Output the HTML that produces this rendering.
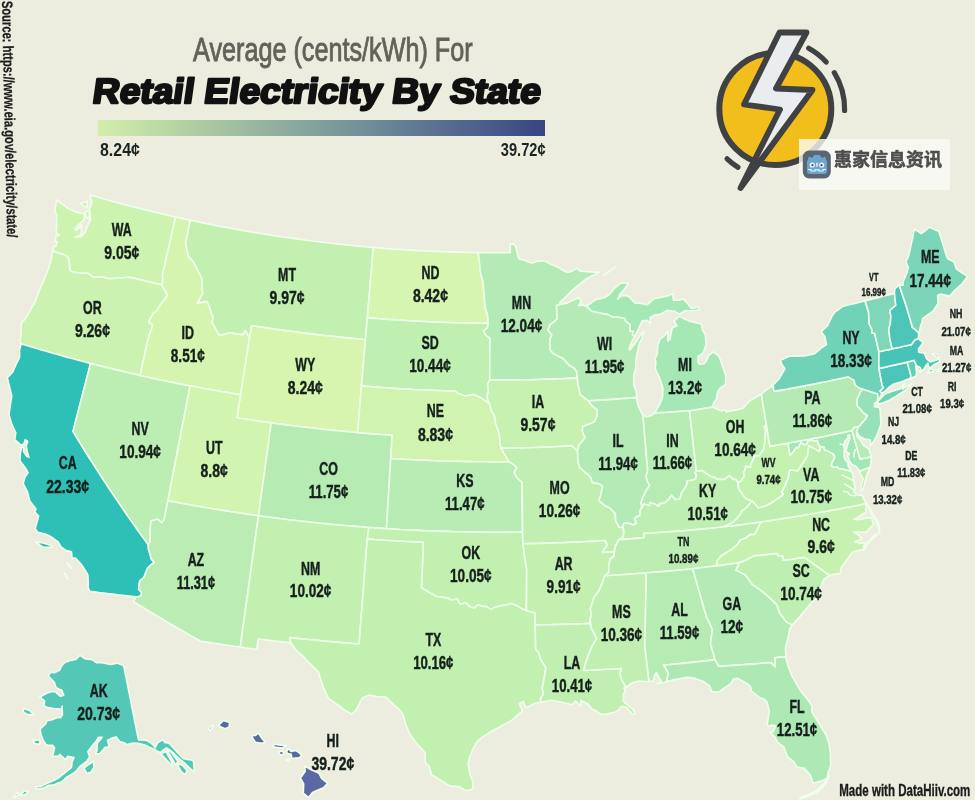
<!DOCTYPE html>
<html lang="en">
<head>
<meta charset="utf-8">
<title>Retail Electricity By State</title>
<style>
html,body{margin:0;padding:0}
html{width:975px;height:800px;overflow:hidden}
body{width:975px;height:800px;overflow:hidden;position:relative;background:#ecedde;font-family:"Liberation Sans","Noto Sans CJK SC",sans-serif}
#bg{position:absolute;left:0;top:0;width:975px;height:800px;background:#ecedde}
svg{position:absolute;left:0;top:0}
#labels,#titlesvg,#srcsvg,#sub,.lg,#src,#made,#wm{will-change:transform}
#map path{stroke:#f0ffec;stroke-width:1.6;stroke-linejoin:round}
text{font-family:"Liberation Sans",sans-serif;font-weight:bold;fill:#16201c;text-anchor:middle}
#labels text{stroke:#16201c;stroke-width:0.45px}
#sub{position:absolute;left:0;top:31.2px;width:665px;text-align:center;font-size:33.5px;color:#62625a;white-space:nowrap;-webkit-text-stroke:0.9px #62625a}
#sub span{display:inline-block;transform:scaleX(0.752);transform-origin:50% 50%}
#legend{position:absolute;left:97.5px;top:120px;width:447.5px;height:15.5px;background:linear-gradient(90deg,#d4efa9 0%,#7c9c9d 52%,#374583 100%)}
.lg{position:absolute;top:139.6px;font-size:17.5px;font-weight:bold;color:#1b2420;white-space:nowrap}
.lg span{display:inline-block;transform:scaleX(0.845);transform-origin:0 50%}
.lg.r span{transform-origin:100% 50%}
#made{position:absolute;right:4.6px;top:780.7px;font-size:17px;-webkit-text-stroke:0.35px #1b1b1b;font-weight:bold;color:#1b1b1b;white-space:nowrap}
#made span{display:inline-block;transform:scaleX(0.678);transform-origin:100% 50%}
#wm{position:absolute;left:798.6px;top:138.6px;width:151.4px;height:50.6px;background:rgba(250,250,246,0.8)}
#wm b{position:absolute;left:35px;top:6px;font-size:18px;color:#4d4d4d;-webkit-text-stroke:0.5px #4d4d4d;font-family:"Liberation Sans","Noto Sans CJK SC",sans-serif;white-space:nowrap}
</style>
</head>
<body>
<div id="bg"></div>
<svg id="map" width="975" height="800" viewBox="0 0 975 800">
<path d="M52.5,250.0L53.6,246.7L55.9,246.2L57.5,241.8L55.5,241.9L55.5,239.3L56.0,235.8L59.5,235.2L56.1,232.9L56.3,229.4L56.6,225.8L56.7,220.8L56.9,215.8L54.8,210.3L55.7,205.1L56.7,199.9L59.9,202.3L63.1,204.7L65.7,206.7L68.4,208.7L71.6,210.1L74.9,211.4L77.1,212.2L79.3,212.9L81.8,213.4L84.3,213.9L84.2,219.6L81.2,222.4L78.2,225.1L74.7,228.9L76.6,230.6L79.1,227.7L81.6,224.9L81.4,229.6L81.3,234.4L78.3,235.8L75.2,237.2L78.3,237.0L81.4,236.8L85.3,231.9L87.2,226.5L88.7,223.3L90.3,220.2L90.3,214.2L89.5,208.7L90.8,205.7L92.0,202.7L91.0,198.9L90.1,195.0L93.7,196.1L97.4,197.1L101.1,198.2L104.8,199.2L108.5,200.2L112.2,201.2L116.0,202.2L119.7,203.2L123.4,204.2L127.1,205.2L130.8,206.2L134.5,207.1L138.3,208.1L142.0,209.0L145.7,209.9L149.4,210.8L153.2,211.7L156.9,212.6L160.6,213.5L164.4,214.4L168.1,215.3L171.9,216.1L175.6,217.0L174.4,222.2L173.2,227.4L172.0,232.7L170.9,237.9L169.7,243.2L168.5,248.4L167.3,253.7L166.1,258.9L164.9,264.2L163.7,269.5L162.5,274.7L162.7,280.2L162.2,284.9L158.5,284.0L154.9,283.2L151.3,282.4L147.6,281.5L144.0,280.7L140.4,279.8L136.7,278.9L133.1,278.1L129.5,277.2L126.9,277.5L124.3,277.8L121.0,277.9L117.6,278.0L113.3,278.4L109.1,278.7L105.2,277.8L101.3,276.9L97.1,277.1L93.0,277.3L90.8,275.4L88.6,273.5L85.0,273.3L81.3,273.1L77.5,272.8L73.7,272.4L71.8,271.4L69.8,270.3L69.4,264.2L68.5,258.4L66.7,256.1L64.4,255.1L62.2,254.1L59.1,253.2L56.1,252.3L52.5,250.0ZM80.6,203.0L84.1,202.2L87.5,201.4L86.7,207.2L83.0,206.1L80.6,203.0ZM85.1,212.7L89.0,210.2L89.2,214.5L89.4,218.7L86.2,217.3L85.1,212.7Z" fill="#cdf3b0"/>
<path d="M21.1,343.9L20.3,341.2L20.7,337.0L21.1,332.9L21.2,328.1L21.2,323.4L23.4,320.9L25.6,318.4L27.4,315.3L29.3,312.2L32.2,307.0L35.1,301.8L36.2,298.5L37.4,295.2L39.4,290.5L41.3,285.9L43.3,281.4L45.2,276.9L47.1,272.0L49.0,267.1L50.2,262.6L51.4,258.1L52.0,254.1L52.5,250.0L56.1,252.3L59.1,253.2L62.2,254.1L64.4,255.1L66.7,256.1L68.5,258.4L69.4,264.2L69.8,270.3L71.8,271.4L73.7,272.4L77.5,272.8L81.3,273.1L85.0,273.3L88.6,273.5L90.8,275.4L93.0,277.3L97.1,277.1L101.3,276.9L105.2,277.8L109.1,278.7L113.3,278.4L117.6,278.0L121.0,277.9L124.3,277.8L126.9,277.5L129.5,277.2L133.1,278.1L136.7,278.9L140.4,279.8L144.0,280.7L147.6,281.5L151.3,282.4L154.9,283.2L158.5,284.0L162.2,284.9L163.5,288.5L165.5,291.7L167.4,294.8L165.3,298.6L161.8,302.9L160.0,305.7L158.2,308.5L156.6,311.2L153.7,312.7L151.8,315.9L149.8,319.0L148.7,322.3L152.5,324.4L151.9,328.3L150.1,332.7L149.4,333.7L148.2,338.9L147.0,344.1L145.9,349.3L144.7,354.5L143.5,359.7L142.3,364.9L141.2,370.2L140.0,375.4L135.9,374.4L131.7,373.5L127.6,372.5L123.5,371.6L119.3,370.6L115.2,369.6L111.1,368.6L107.0,367.6L102.9,366.6L98.8,365.5L94.6,364.5L90.5,363.4L86.4,362.4L82.3,361.3L78.2,360.2L74.1,359.1L70.0,358.0L65.9,356.9L61.9,355.8L57.8,354.6L53.7,353.5L49.6,352.3L45.5,351.1L41.5,349.9L37.4,348.8L33.3,347.6L29.3,346.3L25.2,345.1L21.1,343.9Z" fill="#cbf2b0"/>
<path d="M21.1,343.9L19.6,349.5L19.6,353.2L19.7,356.9L17.7,361.2L15.6,365.4L14.2,368.7L12.8,371.9L10.0,374.9L7.3,377.8L8.6,383.2L10.0,388.7L10.9,392.4L11.8,396.1L11.2,399.6L10.6,403.1L9.8,408.9L9.0,414.8L10.4,419.5L11.8,424.2L13.8,428.5L15.8,432.7L15.3,436.2L14.7,439.7L18.2,442.6L21.6,445.4L24.0,443.6L25.1,439.8L27.8,441.5L26.3,445.5L27.3,451.9L29.0,457.2L26.9,456.6L23.6,451.6L23.5,447.2L21.7,447.1L20.9,450.3L20.2,453.5L20.1,457.2L20.0,460.8L22.8,464.5L25.6,468.2L28.1,472.8L25.1,476.8L24.1,480.2L23.2,483.6L25.4,487.8L27.6,492.1L28.7,496.7L29.9,501.2L32.9,505.1L36.0,508.9L34.7,512.2L36.7,514.1L38.7,516.0L37.1,521.4L36.2,525.0L35.2,528.6L37.7,532.4L42.1,533.4L46.4,534.4L49.0,535.8L51.6,537.2L54.9,539.6L58.2,542.0L61.0,546.8L63.5,548.6L66.0,550.5L68.7,551.1L71.5,551.8L72.0,557.9L75.8,558.4L78.2,561.0L80.5,563.6L83.5,567.6L85.7,571.2L87.8,574.8L88.1,579.1L88.4,583.4L88.1,587.6L89.6,591.3L94.3,591.9L98.9,592.5L103.6,593.0L108.2,593.6L112.9,594.1L117.5,594.7L122.2,595.2L126.9,595.7L131.5,596.2L136.2,596.7L138.1,596.8L141.3,595.8L141.4,592.2L138.6,589.3L139.1,585.2L139.7,581.2L144.0,577.3L145.7,572.8L147.5,568.4L150.8,565.0L154.2,562.6L151.0,558.4L150.2,554.6L148.5,549.5L148.3,544.7L144.6,539.6L140.9,534.6L137.3,529.5L133.7,524.4L130.1,519.3L126.6,514.2L123.1,509.0L119.6,503.9L116.1,498.8L112.6,493.6L109.2,488.5L105.8,483.3L102.4,478.2L99.0,473.0L95.7,467.8L92.4,462.6L89.1,457.5L85.8,452.3L82.6,447.1L79.4,441.9L76.2,436.7L73.0,431.4L74.5,425.8L75.9,420.1L77.4,414.4L78.8,408.8L80.3,403.1L81.8,397.4L83.2,391.8L84.7,386.1L86.2,380.4L87.6,374.8L89.1,369.1L90.5,363.4L86.4,362.4L82.3,361.3L78.2,360.2L74.1,359.1L70.0,358.0L65.9,356.9L61.9,355.8L57.8,354.6L53.7,353.5L49.6,352.3L45.5,351.1L41.5,349.9L37.4,348.8L33.3,347.6L29.3,346.3L25.2,345.1L21.1,343.9ZM35.6,542.0L39.4,542.5L43.2,543.0L47.8,544.5L52.3,545.9L51.9,547.4L47.5,547.3L43.1,547.1L39.4,544.6L35.6,542.0ZM66.8,563.2L69.1,565.9L71.4,568.6L70.2,565.4L66.8,563.2ZM64.3,573.4L67.9,579.3L66.0,574.5L64.3,573.4Z" fill="#2ec0b6"/>
<path d="M90.5,363.4L94.6,364.5L98.8,365.5L102.9,366.6L107.0,367.6L111.1,368.6L115.2,369.6L119.3,370.6L123.5,371.6L127.6,372.5L131.7,373.5L135.9,374.4L140.0,375.4L144.2,376.3L148.3,377.2L152.5,378.1L156.7,379.0L160.8,379.9L165.0,380.8L169.2,381.7L173.4,382.5L177.6,383.4L181.7,384.2L185.9,385.0L190.1,385.8L189.0,391.6L187.9,397.3L186.8,403.0L185.7,408.8L184.6,414.5L183.4,420.3L182.3,426.0L181.2,431.8L180.1,437.5L179.0,443.3L177.9,449.0L176.8,454.8L175.6,460.5L174.5,466.3L173.4,472.0L172.3,477.8L171.2,483.5L170.1,489.3L169.0,495.1L167.8,500.8L166.9,505.5L166.1,510.1L165.2,514.8L164.3,519.4L161.7,522.8L157.7,519.1L154.3,520.0L150.9,520.9L150.5,525.8L150.1,530.8L150.1,536.1L150.1,541.5L148.3,544.7L144.6,539.6L140.9,534.6L137.3,529.5L133.7,524.4L130.1,519.3L126.6,514.2L123.1,509.0L119.6,503.9L116.1,498.8L112.6,493.6L109.2,488.5L105.8,483.3L102.4,478.2L99.0,473.0L95.7,467.8L92.4,462.6L89.1,457.5L85.8,452.3L82.6,447.1L79.4,441.9L76.2,436.7L73.0,431.4L74.5,425.8L75.9,420.1L77.4,414.4L78.8,408.8L80.3,403.1L81.8,397.4L83.2,391.8L84.7,386.1L86.2,380.4L87.6,374.8L89.1,369.1L90.5,363.4Z" fill="#bcedb3"/>
<path d="M175.6,217.0L179.3,217.8L183.0,218.6L186.7,219.4L190.4,220.2L189.2,225.8L188.0,231.4L186.8,237.1L185.6,242.7L186.5,247.2L187.4,251.7L188.3,256.2L190.9,259.1L193.6,262.0L196.3,267.3L199.0,272.6L201.8,277.8L201.9,283.2L202.1,288.5L202.8,293.4L200.2,298.2L197.6,303.0L200.7,302.4L203.9,301.9L207.0,301.3L209.3,306.5L211.2,312.1L213.0,317.8L212.2,322.4L215.0,327.6L217.8,332.8L219.9,335.3L223.1,334.4L226.4,333.5L229.6,332.6L232.8,333.1L236.1,333.7L239.4,334.2L242.6,334.8L245.3,330.5L247.5,334.1L249.6,337.8L248.7,343.5L247.8,349.1L246.9,354.8L246.0,360.5L245.1,366.2L244.2,371.9L243.3,377.6L242.4,383.3L241.5,389.0L240.6,394.7L236.3,394.0L232.1,393.3L227.9,392.6L223.7,391.9L219.5,391.2L215.3,390.5L211.1,389.7L206.9,389.0L202.7,388.2L198.5,387.4L194.3,386.6L190.1,385.8L185.9,385.0L181.7,384.2L177.6,383.4L173.4,382.5L169.2,381.7L165.0,380.8L160.8,379.9L156.7,379.0L152.5,378.1L148.3,377.2L144.2,376.3L140.0,375.4L141.2,370.2L142.3,364.9L143.5,359.7L144.7,354.5L145.9,349.3L147.0,344.1L148.2,338.9L149.4,333.7L150.1,332.7L151.9,328.3L152.5,324.4L148.7,322.3L149.8,319.0L151.8,315.9L153.7,312.7L156.6,311.2L158.2,308.5L160.0,305.7L161.8,302.9L165.3,298.6L167.4,294.8L165.5,291.7L163.5,288.5L162.2,284.9L162.7,280.2L162.5,274.7L163.7,269.5L164.9,264.2L166.1,258.9L167.3,253.7L168.5,248.4L169.7,243.2L170.9,237.9L172.0,232.7L173.2,227.4L174.4,222.2L175.6,217.0Z" fill="#d4f4b0"/>
<path d="M190.4,220.2L194.1,221.0L197.9,221.8L201.7,222.6L205.5,223.4L209.3,224.1L213.0,224.9L216.8,225.6L220.6,226.4L224.4,227.1L228.2,227.8L232.0,228.5L235.8,229.2L239.6,229.9L243.3,230.6L247.1,231.2L250.9,231.9L254.7,232.5L258.5,233.1L262.4,233.8L266.2,234.4L270.0,235.0L273.8,235.6L277.6,236.2L281.4,236.7L285.2,237.3L289.0,237.8L292.8,238.4L296.7,238.9L300.5,239.4L304.3,240.0L308.1,240.5L311.9,241.0L315.8,241.4L319.6,241.9L323.4,242.4L327.3,242.8L331.1,243.3L334.9,243.7L338.7,244.1L342.6,244.5L346.4,244.9L350.2,245.3L354.1,245.7L357.9,246.1L361.8,246.4L365.6,246.8L369.4,247.1L373.3,247.5L372.8,252.8L372.4,258.2L371.9,263.6L371.5,269.0L371.0,274.4L370.5,279.8L370.1,285.2L369.6,290.6L369.2,296.1L368.7,301.5L368.2,306.9L367.8,312.3L367.3,317.8L366.8,323.2L366.4,328.6L365.9,334.1L365.5,339.5L361.4,339.2L357.3,338.8L353.2,338.4L349.1,338.1L345.1,337.7L341.0,337.2L336.9,336.8L332.8,336.4L328.8,336.0L324.7,335.5L320.6,335.1L316.5,334.6L312.5,334.1L308.4,333.6L304.3,333.1L300.3,332.6L296.2,332.1L292.1,331.5L288.1,331.0L284.0,330.4L280.0,329.9L275.9,329.3L271.8,328.7L267.8,328.1L263.7,327.5L259.7,326.9L255.6,326.3L251.6,325.6L250.9,329.7L250.3,333.7L249.6,337.8L247.5,334.1L245.3,330.5L242.6,334.8L239.4,334.2L236.1,333.7L232.8,333.1L229.6,332.6L226.4,333.5L223.1,334.4L219.9,335.3L217.8,332.8L215.0,327.6L212.2,322.4L213.0,317.8L211.2,312.1L209.3,306.5L207.0,301.3L203.9,301.9L200.7,302.4L197.6,303.0L200.2,298.2L202.8,293.4L202.1,288.5L201.9,283.2L201.8,277.8L199.0,272.6L196.3,267.3L193.6,262.0L190.9,259.1L188.3,256.2L187.4,251.7L186.5,247.2L185.6,242.7L186.8,237.1L188.0,231.4L189.2,225.8L190.4,220.2Z" fill="#c2f0b0"/>
<path d="M249.6,337.8L250.3,333.7L250.9,329.7L251.6,325.6L255.6,326.3L259.7,326.9L263.7,327.5L267.8,328.1L271.8,328.7L275.9,329.3L280.0,329.9L284.0,330.4L288.1,331.0L292.1,331.5L296.2,332.1L300.3,332.6L304.3,333.1L308.4,333.6L312.5,334.1L316.5,334.6L320.6,335.1L324.7,335.5L328.8,336.0L332.8,336.4L336.9,336.8L341.0,337.2L345.1,337.7L349.1,338.1L353.2,338.4L357.3,338.8L361.4,339.2L365.5,339.5L365.0,345.3L364.5,351.1L364.0,356.9L363.5,362.7L363.0,368.5L362.5,374.3L362.0,380.1L361.5,385.9L361.0,391.8L360.5,397.6L360.0,403.4L359.5,409.2L359.1,415.1L358.6,420.9L358.1,426.7L357.6,432.5L353.2,432.2L348.9,431.8L344.6,431.4L340.3,431.0L335.9,430.6L331.6,430.1L327.3,429.7L323.0,429.2L318.7,428.8L314.3,428.3L310.0,427.8L305.7,427.3L301.4,426.8L297.1,426.3L292.8,425.7L288.5,425.2L284.2,424.6L279.8,424.1L275.5,423.5L271.2,422.9L266.9,422.3L262.6,421.7L258.3,421.1L254.0,420.4L249.7,419.8L245.5,419.1L241.2,418.5L236.9,417.8L237.8,412.0L238.7,406.2L239.6,400.5L240.6,394.7L241.5,389.0L242.4,383.3L243.3,377.6L244.2,371.9L245.1,366.2L246.0,360.5L246.9,354.8L247.8,349.1L248.7,343.5L249.6,337.8Z" fill="#d8f5b0"/>
<path d="M190.1,385.8L194.3,386.6L198.5,387.4L202.7,388.2L206.9,389.0L211.1,389.7L215.3,390.5L219.5,391.2L223.7,391.9L227.9,392.6L232.1,393.3L236.3,394.0L240.6,394.7L239.6,400.5L238.7,406.2L237.8,412.0L236.9,417.8L241.2,418.5L245.5,419.1L249.7,419.8L254.0,420.4L258.3,421.1L262.6,421.7L266.9,422.3L271.2,422.9L270.4,428.7L269.6,434.5L268.9,440.3L268.1,446.1L267.3,451.9L266.5,457.7L265.7,463.5L264.9,469.3L264.1,475.1L263.3,480.9L262.5,486.7L261.7,492.5L260.9,498.4L260.1,504.2L259.3,510.0L258.5,515.8L254.2,515.2L249.8,514.6L245.5,513.9L241.2,513.3L236.8,512.6L232.5,512.0L228.2,511.3L223.9,510.6L219.6,509.9L215.2,509.2L210.9,508.5L206.6,507.8L202.3,507.1L198.0,506.3L193.7,505.6L189.4,504.8L185.0,504.0L180.7,503.2L176.4,502.4L172.1,501.6L167.8,500.8L169.0,495.1L170.1,489.3L171.2,483.5L172.3,477.8L173.4,472.0L174.5,466.3L175.6,460.5L176.8,454.8L177.9,449.0L179.0,443.3L180.1,437.5L181.2,431.8L182.3,426.0L183.4,420.3L184.6,414.5L185.7,408.8L186.8,403.0L187.9,397.3L189.0,391.6L190.1,385.8Z" fill="#d1f4b0"/>
<path d="M167.8,500.8L172.1,501.6L176.4,502.4L180.7,503.2L185.0,504.0L189.4,504.8L193.7,505.6L198.0,506.3L202.3,507.1L206.6,507.8L210.9,508.5L215.2,509.2L219.6,509.9L223.9,510.6L228.2,511.3L232.5,512.0L236.8,512.6L241.2,513.3L245.5,513.9L249.8,514.6L254.2,515.2L258.5,515.8L257.7,521.5L256.9,527.2L256.1,532.9L255.3,538.7L254.5,544.4L253.7,550.1L252.9,555.8L252.1,561.5L251.4,567.3L250.6,573.0L249.8,578.7L249.0,584.4L248.2,590.1L247.4,595.8L246.6,601.5L245.8,607.2L245.0,612.9L244.2,618.6L243.4,624.3L242.6,630.0L241.8,635.7L241.1,641.4L240.3,647.1L235.9,646.5L231.5,645.9L227.1,645.2L222.7,644.6L218.3,643.9L213.9,643.3L209.6,642.6L205.2,641.9L200.8,641.2L196.2,638.7L191.7,636.1L187.1,633.5L182.6,630.9L178.0,628.3L173.5,625.7L169.0,623.0L164.5,620.4L160.0,617.7L155.6,615.1L151.1,612.4L146.7,609.7L142.2,607.0L137.8,604.3L133.4,601.6L136.2,596.7L138.1,596.8L141.3,595.8L141.4,592.2L138.6,589.3L139.1,585.2L139.7,581.2L144.0,577.3L145.7,572.8L147.5,568.4L150.8,565.0L154.2,562.6L151.0,558.4L150.2,554.6L148.5,549.5L148.3,544.7L150.1,541.5L150.1,536.1L150.1,530.8L150.5,525.8L150.9,520.9L154.3,520.0L157.7,519.1L161.7,522.8L164.3,519.4L165.2,514.8L166.1,510.1L166.9,505.5L167.8,500.8Z" fill="#baecb4"/>
<path d="M271.2,422.9L275.5,423.5L279.8,424.1L284.2,424.6L288.5,425.2L292.8,425.7L297.1,426.3L301.4,426.8L305.7,427.3L310.0,427.8L314.3,428.3L318.7,428.8L323.0,429.2L327.3,429.7L331.6,430.1L335.9,430.6L340.3,431.0L344.6,431.4L348.9,431.8L353.2,432.2L357.6,432.5L361.9,432.9L366.2,433.2L370.6,433.6L374.9,433.9L379.2,434.2L383.6,434.5L387.9,434.8L392.2,435.1L391.8,441.0L391.5,446.8L391.1,452.6L390.7,458.5L390.4,464.3L390.0,470.2L389.7,476.0L389.3,481.9L388.9,487.7L388.6,493.6L388.2,499.4L387.9,505.3L387.5,511.1L387.2,517.0L386.8,522.8L386.4,528.7L382.0,528.4L377.6,528.1L373.3,527.8L368.9,527.5L364.4,527.1L360.0,526.8L355.6,526.4L351.2,526.1L346.7,525.7L342.3,525.3L337.9,524.9L333.5,524.5L329.0,524.1L324.6,523.6L320.2,523.2L315.8,522.7L311.4,522.3L307.0,521.8L302.6,521.3L298.1,520.8L293.7,520.3L289.3,519.7L284.9,519.2L280.5,518.7L276.1,518.1L271.7,517.5L267.3,517.0L262.9,516.4L258.5,515.8L259.3,510.0L260.1,504.2L260.9,498.4L261.7,492.5L262.5,486.7L263.3,480.9L264.1,475.1L264.9,469.3L265.7,463.5L266.5,457.7L267.3,451.9L268.1,446.1L268.9,440.3L269.6,434.5L270.4,428.7L271.2,422.9Z" fill="#b6ebb4"/>
<path d="M258.5,515.8L262.9,516.4L267.3,517.0L271.7,517.5L276.1,518.1L280.5,518.7L284.9,519.2L289.3,519.7L293.7,520.3L298.1,520.8L302.6,521.3L307.0,521.8L311.4,522.3L315.8,522.7L320.2,523.2L324.6,523.6L329.0,524.1L333.5,524.5L337.9,524.9L342.3,525.3L346.7,525.7L351.2,526.1L355.6,526.4L360.0,526.8L364.4,527.1L368.9,527.5L368.1,533.3L367.3,539.1L366.8,544.9L366.3,550.8L365.9,556.6L365.4,562.4L365.0,568.3L364.5,574.1L364.1,579.9L363.6,585.8L363.2,591.6L362.7,597.4L362.3,603.3L361.8,609.1L361.3,614.9L360.9,620.7L360.4,626.6L360.0,632.4L359.5,638.2L359.1,644.0L354.4,643.7L349.8,643.3L345.2,642.9L340.5,642.5L335.9,642.1L331.3,641.7L326.6,641.3L322.0,640.9L317.4,640.4L312.8,640.0L308.1,639.5L303.5,639.0L298.9,638.6L294.3,638.1L289.6,637.5L290.8,642.8L286.1,642.3L281.5,641.8L276.8,641.2L272.1,640.7L267.4,640.1L262.7,639.5L258.1,638.9L257.4,644.1L256.7,649.3L252.6,648.8L248.5,648.2L244.4,647.7L240.3,647.1L241.1,641.4L241.8,635.7L242.6,630.0L243.4,624.3L244.2,618.6L245.0,612.9L245.8,607.2L246.6,601.5L247.4,595.8L248.2,590.1L249.0,584.4L249.8,578.7L250.6,573.0L251.4,567.3L252.1,561.5L252.9,555.8L253.7,550.1L254.5,544.4L255.3,538.7L256.1,532.9L256.9,527.2L257.7,521.5L258.5,515.8Z" fill="#c2f0b0"/>
<path d="M373.3,247.5L377.0,247.8L380.8,248.1L384.5,248.4L388.3,248.7L392.0,248.9L395.7,249.2L399.5,249.4L403.2,249.7L407.0,249.9L410.7,250.2L414.5,250.4L418.2,250.6L422.0,250.8L425.7,251.0L429.5,251.1L433.2,251.3L437.0,251.5L440.8,251.6L444.5,251.8L448.3,251.9L452.0,252.0L455.8,252.1L459.5,252.2L463.3,252.3L467.0,252.4L470.8,252.5L474.5,252.5L478.3,252.6L478.9,257.2L479.4,261.8L479.8,266.4L480.1,271.0L481.6,276.8L483.1,282.5L483.5,287.1L483.8,291.8L484.2,296.4L484.5,301.0L484.9,304.5L485.3,308.0L486.4,311.4L487.6,314.9L487.9,319.1L488.2,323.3L484.2,323.2L480.1,323.2L476.1,323.1L472.1,323.1L468.0,323.0L464.0,322.9L460.0,322.8L455.9,322.7L451.9,322.6L447.9,322.5L443.8,322.4L439.8,322.2L435.8,322.1L431.7,321.9L427.7,321.7L423.7,321.5L419.6,321.3L415.6,321.1L411.6,320.9L407.6,320.7L403.5,320.4L399.5,320.2L395.5,319.9L391.5,319.6L387.4,319.4L383.4,319.1L379.4,318.8L375.4,318.4L371.3,318.1L367.3,317.8L367.8,312.3L368.2,306.9L368.7,301.5L369.2,296.1L369.6,290.6L370.1,285.2L370.5,279.8L371.0,274.4L371.5,269.0L371.9,263.6L372.4,258.2L372.8,252.8L373.3,247.5Z" fill="#d6f5b0"/>
<path d="M367.3,317.8L371.3,318.1L375.4,318.4L379.4,318.8L383.4,319.1L387.4,319.4L391.5,319.6L395.5,319.9L399.5,320.2L403.5,320.4L407.6,320.7L411.6,320.9L415.6,321.1L419.6,321.3L423.7,321.5L427.7,321.7L431.7,321.9L435.8,322.1L439.8,322.2L443.8,322.4L447.9,322.5L451.9,322.6L455.9,322.7L460.0,322.8L464.0,322.9L468.0,323.0L472.1,323.1L476.1,323.1L480.1,323.2L484.2,323.2L488.2,323.3L487.5,327.7L483.5,331.1L485.9,335.3L489.9,338.1L489.9,343.3L489.9,348.6L489.8,353.8L489.8,359.0L489.8,364.3L489.8,369.5L489.7,374.8L489.7,380.0L487.5,384.7L488.5,390.5L487.6,394.0L486.8,397.5L488.2,400.5L489.6,403.6L485.4,401.0L482.8,399.2L480.3,397.4L477.0,396.0L473.6,394.6L469.3,395.3L465.1,396.0L461.7,394.8L458.4,393.6L455.1,391.1L451.0,391.0L446.9,390.9L442.8,390.8L438.8,390.6L434.7,390.5L430.6,390.3L426.6,390.1L422.5,390.0L418.4,389.8L414.4,389.6L410.3,389.3L406.2,389.1L402.2,388.9L398.1,388.6L394.0,388.4L390.0,388.1L385.9,387.8L381.8,387.5L377.8,387.2L373.7,386.9L369.6,386.6L365.6,386.3L361.5,385.9L362.0,380.1L362.5,374.3L363.0,368.5L363.5,362.7L364.0,356.9L364.5,351.1L365.0,345.3L365.5,339.5L365.9,334.1L366.4,328.6L366.8,323.2L367.3,317.8Z" fill="#bfefb1"/>
<path d="M361.5,385.9L365.6,386.3L369.6,386.6L373.7,386.9L377.8,387.2L381.8,387.5L385.9,387.8L390.0,388.1L394.0,388.4L398.1,388.6L402.2,388.9L406.2,389.1L410.3,389.3L414.4,389.6L418.4,389.8L422.5,390.0L426.6,390.1L430.6,390.3L434.7,390.5L438.8,390.6L442.8,390.8L446.9,390.9L451.0,391.0L455.1,391.1L458.4,393.6L461.7,394.8L465.1,396.0L469.3,395.3L473.6,394.6L477.0,396.0L480.3,397.4L482.8,399.2L485.4,401.0L489.6,403.6L490.4,407.0L491.3,410.4L493.2,413.9L495.0,417.4L495.5,423.2L497.0,427.3L498.5,431.4L499.2,434.9L499.9,438.5L499.9,443.6L501.3,448.3L503.2,451.8L505.2,455.3L507.3,458.6L509.4,461.8L505.0,461.9L500.6,461.9L496.2,461.9L491.8,461.9L487.4,461.8L483.0,461.8L478.6,461.8L474.2,461.7L469.8,461.6L465.4,461.6L461.0,461.5L456.6,461.4L452.2,461.3L447.8,461.1L443.5,461.0L439.1,460.9L434.7,460.7L430.3,460.5L425.9,460.3L421.5,460.2L417.1,460.0L412.7,459.7L408.3,459.5L403.9,459.3L399.5,459.0L395.1,458.8L390.7,458.5L391.1,452.6L391.5,446.8L391.8,441.0L392.2,435.1L387.9,434.8L383.6,434.5L379.2,434.2L374.9,433.9L370.6,433.6L366.2,433.2L361.9,432.9L357.6,432.5L358.1,426.7L358.6,420.9L359.1,415.1L359.5,409.2L360.0,403.4L360.5,397.6L361.0,391.8L361.5,385.9Z" fill="#d0f3b0"/>
<path d="M390.7,458.5L395.1,458.8L399.5,459.0L403.9,459.3L408.3,459.5L412.7,459.7L417.1,460.0L421.5,460.2L425.9,460.3L430.3,460.5L434.7,460.7L439.1,460.9L443.5,461.0L447.8,461.1L452.2,461.3L456.6,461.4L461.0,461.5L465.4,461.6L469.8,461.6L474.2,461.7L478.6,461.8L483.0,461.8L487.4,461.8L491.8,461.9L496.2,461.9L500.6,461.9L505.0,461.9L509.4,461.8L511.7,463.3L514.0,464.8L516.7,467.6L514.1,472.3L516.8,477.5L519.4,479.9L522.1,482.3L522.1,487.8L522.2,493.4L522.2,498.9L522.3,504.4L522.4,509.9L522.4,515.4L522.5,521.0L522.5,526.5L522.6,532.0L518.1,532.1L513.5,532.1L509.0,532.1L504.4,532.2L499.9,532.2L495.4,532.2L490.8,532.2L486.3,532.1L481.7,532.1L477.2,532.1L472.7,532.0L468.1,531.9L463.6,531.9L459.0,531.8L454.5,531.7L449.9,531.5L445.4,531.4L440.9,531.3L436.3,531.1L431.8,531.0L427.3,530.8L422.7,530.6L418.2,530.4L413.6,530.2L409.1,530.0L404.6,529.7L400.0,529.5L395.5,529.2L391.0,528.9L386.4,528.7L386.8,522.8L387.2,517.0L387.5,511.1L387.9,505.3L388.2,499.4L388.6,493.6L388.9,487.7L389.3,481.9L389.7,476.0L390.0,470.2L390.4,464.3L390.7,458.5Z" fill="#b8ecb4"/>
<path d="M368.9,527.5L373.3,527.8L377.6,528.1L382.0,528.4L386.4,528.7L391.0,528.9L395.5,529.2L400.0,529.5L404.6,529.7L409.1,530.0L413.6,530.2L418.2,530.4L422.7,530.6L427.3,530.8L431.8,531.0L436.3,531.1L440.9,531.3L445.4,531.4L449.9,531.5L454.5,531.7L459.0,531.8L463.6,531.9L468.1,531.9L472.7,532.0L477.2,532.1L481.7,532.1L486.3,532.1L490.8,532.2L495.4,532.2L499.9,532.2L504.4,532.2L509.0,532.1L513.5,532.1L518.1,532.1L522.6,532.0L522.7,537.9L522.8,543.7L523.6,548.9L524.3,554.1L525.1,559.3L525.9,564.5L526.7,569.7L526.7,575.5L526.6,581.4L526.6,587.2L526.6,593.1L526.5,598.9L526.5,604.8L526.4,610.6L523.8,609.6L521.2,608.6L516.4,605.4L511.6,603.5L508.7,604.2L505.9,604.8L503.0,605.4L500.1,605.9L497.3,606.8L494.4,607.6L490.6,609.4L486.4,606.6L482.9,606.4L478.1,604.7L474.3,608.1L469.5,606.4L465.7,602.6L462.9,603.5L460.0,604.4L457.2,599.0L454.4,599.5L451.5,600.0L447.7,598.3L444.4,597.6L441.1,596.9L436.3,596.5L432.6,594.4L428.9,592.3L425.1,590.0L421.4,587.7L421.7,582.1L421.9,576.4L422.2,570.7L422.4,565.0L422.6,559.4L422.9,553.7L423.1,548.0L423.4,542.3L419.0,542.2L414.7,542.0L410.4,541.8L406.1,541.5L401.8,541.3L397.4,541.1L393.1,540.8L388.8,540.5L384.5,540.3L380.2,540.0L375.9,539.7L371.6,539.4L367.3,539.1L368.1,533.3L368.9,527.5Z" fill="#c2f0b0"/>
<path d="M367.3,539.1L371.6,539.4L375.9,539.7L380.2,540.0L384.5,540.3L388.8,540.5L393.1,540.8L397.4,541.1L401.8,541.3L406.1,541.5L410.4,541.8L414.7,542.0L419.0,542.2L423.4,542.3L423.1,548.0L422.9,553.7L422.6,559.4L422.4,565.0L422.2,570.7L421.9,576.4L421.7,582.1L421.4,587.7L425.1,590.0L428.9,592.3L432.6,594.4L436.3,596.5L441.1,596.9L444.4,597.6L447.7,598.3L451.5,600.0L454.4,599.5L457.2,599.0L460.0,604.4L462.9,603.5L465.7,602.6L469.5,606.4L474.3,608.1L478.1,604.7L482.9,606.4L486.4,606.6L490.6,609.4L494.4,607.6L497.3,606.8L500.1,605.9L503.0,605.4L505.9,604.8L508.7,604.2L511.6,603.5L516.4,605.4L521.2,608.6L523.8,609.6L526.4,610.6L530.9,611.9L534.9,612.6L535.0,616.7L535.1,620.8L535.2,625.0L535.3,629.8L535.4,634.6L535.5,639.4L535.6,644.2L535.7,649.0L538.5,652.2L539.5,655.7L540.6,659.1L543.2,663.4L545.8,667.6L545.3,670.9L544.9,674.2L544.0,678.9L543.2,683.5L542.3,688.2L543.4,694.0L540.5,698.7L540.8,702.4L538.2,702.7L535.6,703.0L532.6,704.5L529.6,705.9L525.6,707.8L524.5,704.6L523.4,701.3L519.4,703.7L521.0,707.4L522.6,711.1L518.6,714.2L515.0,717.3L511.5,720.5L507.1,722.9L502.7,725.3L498.3,727.7L493.7,730.3L489.1,732.8L485.5,735.1L481.9,737.4L476.7,742.0L474.6,746.0L472.5,750.0L470.9,754.0L469.3,758.1L468.7,761.5L468.1,765.0L469.1,769.6L470.1,774.2L471.4,777.7L472.7,781.2L472.9,785.1L473.0,789.0L469.3,789.9L465.6,790.7L462.5,788.7L459.4,786.7L454.7,786.4L449.9,786.1L446.0,783.7L442.1,781.2L438.2,778.8L434.8,776.7L431.4,774.5L430.3,770.4L429.1,766.3L425.5,762.7L425.2,757.5L424.9,752.3L421.4,748.7L417.9,745.1L413.5,739.1L409.2,733.2L407.3,728.4L405.5,723.7L404.2,719.0L402.9,714.3L398.1,708.3L395.2,705.8L390.4,701.5L385.6,697.1L381.1,696.8L376.6,696.6L373.1,695.8L369.6,694.9L366.0,696.4L362.3,697.9L360.4,701.8L358.4,705.7L356.4,709.6L352.0,714.2L347.6,711.7L343.2,709.3L339.8,706.2L336.0,703.7L332.3,701.1L328.5,698.5L325.7,692.5L322.9,686.6L321.4,681.6L319.8,676.6L318.3,671.7L314.6,668.1L311.0,664.6L307.3,661.0L302.9,656.1L299.7,653.4L296.5,650.7L293.7,646.8L290.8,642.8L289.6,637.5L294.3,638.1L298.9,638.6L303.5,639.0L308.1,639.5L312.8,640.0L317.4,640.4L322.0,640.9L326.6,641.3L331.3,641.7L335.9,642.1L340.5,642.5L345.2,642.9L349.8,643.3L354.4,643.7L359.1,644.0L359.5,638.2L360.0,632.4L360.4,626.6L360.9,620.7L361.3,614.9L361.8,609.1L362.3,603.3L362.7,597.4L363.2,591.6L363.6,585.8L364.1,579.9L364.5,574.1L365.0,568.3L365.4,562.4L365.9,556.6L366.3,550.8L366.8,544.9L367.3,539.1Z" fill="#c1f0b0"/>
<path d="M478.3,252.6L481.9,252.6L485.4,252.7L489.0,252.7L492.5,252.7L496.1,252.7L499.6,252.7L503.2,252.7L506.8,252.7L510.3,252.7L510.3,248.3L510.2,244.0L513.4,244.1L515.4,245.7L516.5,250.3L517.7,254.9L518.9,259.0L521.7,259.6L524.4,260.3L527.9,261.7L531.4,263.1L534.5,262.2L537.6,261.3L541.1,261.0L544.6,260.7L548.1,262.7L551.7,264.8L554.1,265.6L556.4,266.5L559.9,268.5L563.4,270.5L566.9,272.4L569.2,272.3L571.9,271.0L574.5,269.6L577.1,268.2L580.1,271.1L583.8,271.4L587.5,271.7L591.1,272.0L593.8,272.1L596.5,272.1L599.1,272.2L596.0,273.9L592.8,275.5L589.6,277.1L586.4,278.8L583.0,281.5L579.6,284.3L576.2,287.0L574.2,288.6L572.1,290.2L569.1,293.5L566.1,296.7L562.8,299.6L559.5,302.6L560.8,304.4L558.7,304.9L556.6,305.5L556.7,309.9L556.9,314.4L557.1,318.9L554.6,321.3L552.2,323.1L549.9,324.9L547.9,330.3L551.8,334.6L550.3,338.4L549.7,343.1L550.3,346.5L549.9,350.0L552.2,352.1L554.5,354.1L556.9,355.4L559.2,356.7L562.9,358.2L566.3,361.9L569.7,365.6L573.8,367.7L576.5,371.1L576.9,374.5L577.3,378.0L573.2,378.2L569.0,378.4L564.8,378.6L560.7,378.8L556.5,378.9L552.3,379.1L548.1,379.2L544.0,379.3L539.8,379.5L535.6,379.6L531.5,379.7L527.3,379.8L523.1,379.8L518.9,379.9L514.8,379.9L510.6,380.0L506.4,380.0L502.2,380.0L498.1,380.0L493.9,380.0L489.7,380.0L489.7,374.8L489.8,369.5L489.8,364.3L489.8,359.0L489.8,353.8L489.9,348.6L489.9,343.3L489.9,338.1L485.9,335.3L483.5,331.1L487.5,327.7L488.2,323.3L487.9,319.1L487.6,314.9L486.4,311.4L485.3,308.0L484.9,304.5L484.5,301.0L484.2,296.4L483.8,291.8L483.5,287.1L483.1,282.5L481.6,276.8L480.1,271.0L479.8,266.4L479.4,261.8L478.9,257.2L478.3,252.6Z" fill="#b4eab5"/>
<path d="M489.7,380.0L493.9,380.0L498.1,380.0L502.2,380.0L506.4,380.0L510.6,380.0L514.8,379.9L518.9,379.9L523.1,379.8L527.3,379.8L531.5,379.7L535.6,379.6L539.8,379.5L544.0,379.3L548.1,379.2L552.3,379.1L556.5,378.9L560.7,378.8L564.8,378.6L569.0,378.4L573.2,378.2L577.3,378.0L578.0,383.8L579.1,388.4L579.6,391.6L580.2,394.7L582.2,396.2L585.3,398.5L588.4,400.8L592.4,406.2L594.8,407.9L597.3,409.6L597.1,415.5L594.7,421.5L590.7,423.6L586.7,425.0L582.7,426.4L582.5,431.6L583.8,434.5L585.0,437.5L582.6,440.9L579.0,445.1L577.5,451.0L574.7,448.5L571.8,445.9L567.7,446.1L563.5,446.3L559.4,446.5L555.3,446.7L551.1,446.9L547.0,447.1L542.8,447.2L538.7,447.4L534.5,447.5L530.4,447.7L526.2,447.8L522.0,447.9L517.9,448.0L513.7,448.1L509.6,448.2L505.4,448.2L501.3,448.3L499.9,443.6L499.9,438.5L499.2,434.9L498.5,431.4L497.0,427.3L495.5,423.2L495.0,417.4L493.2,413.9L491.3,410.4L490.4,407.0L489.6,403.6L488.2,400.5L486.8,397.5L487.6,394.0L488.5,390.5L487.5,384.7L489.7,380.0Z" fill="#c7f1b0"/>
<path d="M501.3,448.3L505.4,448.2L509.6,448.2L513.7,448.1L517.9,448.0L522.0,447.9L526.2,447.8L530.4,447.7L534.5,447.5L538.7,447.4L542.8,447.2L547.0,447.1L551.1,446.9L555.3,446.7L559.4,446.5L563.5,446.3L567.7,446.1L571.8,445.9L574.7,448.5L577.5,451.0L577.8,456.3L578.0,461.6L579.3,466.7L582.2,469.6L585.1,472.5L587.9,474.2L591.1,478.0L592.3,482.6L596.8,483.1L601.3,484.7L602.5,486.5L601.7,490.8L600.4,496.3L598.9,500.6L602.0,503.2L605.2,505.8L609.1,507.5L612.2,510.4L615.3,513.4L615.5,517.2L615.7,521.1L616.9,522.9L618.6,526.8L623.3,528.1L623.9,533.5L622.7,537.5L618.8,539.7L617.0,543.3L615.0,547.2L614.4,551.7L610.2,552.0L606.0,552.3L601.8,552.5L604.4,548.8L607.1,545.2L605.3,540.6L600.7,540.8L596.2,541.1L591.6,541.4L587.0,541.6L582.4,541.8L577.8,542.1L573.2,542.3L568.7,542.4L564.1,542.6L559.5,542.8L554.9,543.0L550.3,543.1L545.7,543.2L541.1,543.4L536.5,543.5L532.0,543.6L527.4,543.6L522.8,543.7L522.7,537.9L522.6,532.0L522.5,526.5L522.5,521.0L522.4,515.4L522.4,509.9L522.3,504.4L522.2,498.9L522.2,493.4L522.1,487.8L522.1,482.3L519.4,479.9L516.8,477.5L514.1,472.3L516.7,467.6L514.0,464.8L511.7,463.3L509.4,461.8L507.3,458.6L505.2,455.3L503.2,451.8L501.3,448.3Z" fill="#c0efb1"/>
<path d="M522.8,543.7L527.4,543.6L532.0,543.6L536.5,543.5L541.1,543.4L545.7,543.2L550.3,543.1L554.9,543.0L559.5,542.8L564.1,542.6L568.7,542.4L573.2,542.3L577.8,542.1L582.4,541.8L587.0,541.6L591.6,541.4L596.2,541.1L600.7,540.8L605.3,540.6L607.1,545.2L604.4,548.8L601.8,552.5L606.0,552.3L610.2,552.0L614.4,551.7L614.3,556.0L610.2,559.0L608.7,565.0L608.8,568.8L608.8,572.5L604.7,575.8L603.5,579.4L602.3,583.0L600.1,587.8L598.9,590.9L596.4,594.2L593.9,597.5L591.9,603.5L590.3,609.4L591.5,614.0L589.9,620.0L590.7,623.4L586.0,623.6L581.4,623.8L576.8,624.0L572.2,624.1L567.5,624.3L562.9,624.4L558.3,624.5L553.7,624.6L549.0,624.7L544.4,624.8L539.8,624.9L535.2,625.0L535.1,620.8L535.0,616.7L534.9,612.6L530.9,611.9L526.4,610.6L526.5,604.8L526.5,598.9L526.6,593.1L526.6,587.2L526.6,581.4L526.7,575.5L526.7,569.7L525.9,564.5L525.1,559.3L524.3,554.1L523.6,548.9L522.8,543.7Z" fill="#c3f0b0"/>
<path d="M535.2,625.0L539.8,624.9L544.4,624.8L549.0,624.7L553.7,624.6L558.3,624.5L562.9,624.4L567.5,624.3L572.2,624.1L576.8,624.0L581.4,623.8L586.0,623.6L590.7,623.4L591.3,628.1L594.0,633.4L596.7,638.8L593.1,644.4L591.3,647.9L589.4,652.7L587.5,657.5L586.4,661.0L585.2,664.6L583.9,670.5L588.6,670.2L593.3,670.0L598.0,669.8L602.7,669.5L607.4,669.2L612.1,669.0L616.8,668.7L621.5,668.4L619.9,673.6L620.9,676.8L621.9,680.0L624.9,685.6L626.8,687.1L623.9,688.0L625.6,690.7L623.4,693.9L623.4,697.6L623.3,701.3L627.6,704.8L630.5,707.4L633.4,709.9L635.4,714.0L631.7,713.8L629.2,710.7L626.8,707.6L621.6,706.3L618.8,709.8L614.9,712.3L610.9,713.1L606.9,714.0L604.0,714.2L601.2,714.5L598.4,712.6L595.7,710.6L592.4,709.6L588.1,704.0L584.5,702.2L580.9,700.4L580.9,706.2L578.2,703.7L575.4,701.1L572.0,704.7L567.9,703.7L563.8,702.7L559.7,701.7L555.7,701.0L551.6,700.3L548.0,701.0L544.4,701.7L540.8,702.4L540.5,698.7L543.4,694.0L542.3,688.2L543.2,683.5L544.0,678.9L544.9,674.2L545.3,670.9L545.8,667.6L543.2,663.4L540.6,659.1L539.5,655.7L538.5,652.2L535.7,649.0L535.6,644.2L535.5,639.4L535.4,634.6L535.3,629.8L535.2,625.0Z" fill="#c0efb1"/>
<path d="M560.8,304.4L564.2,303.6L567.5,302.9L570.6,301.4L573.7,299.8L576.5,298.8L579.2,297.7L581.0,302.2L578.5,305.8L582.0,304.9L584.3,305.5L586.5,306.1L589.1,308.6L591.7,311.1L595.0,311.8L598.3,312.5L601.7,313.2L605.0,313.9L608.4,314.6L612.6,316.9L615.4,317.0L618.2,317.1L621.5,317.8L624.8,318.4L625.6,321.2L627.9,322.7L630.2,324.3L630.1,327.8L630.0,331.3L633.3,331.0L632.4,334.1L634.6,336.7L631.7,341.6L630.4,345.2L629.0,348.9L630.0,350.0L632.2,347.1L634.4,344.2L638.0,338.7L640.2,335.6L642.4,332.5L644.0,331.7L643.0,335.0L642.1,338.4L639.3,343.3L638.4,347.5L637.6,351.6L636.7,355.9L635.8,360.2L635.8,364.2L635.7,368.2L634.6,372.5L633.6,376.8L633.7,381.0L633.8,385.2L635.1,388.6L636.4,392.0L636.6,397.6L632.5,397.9L628.5,398.2L624.5,398.5L620.5,398.8L616.5,399.1L612.5,399.4L608.5,399.6L604.4,399.9L600.4,400.1L596.4,400.4L592.4,400.6L588.4,400.8L585.3,398.5L582.2,396.2L580.2,394.7L579.6,391.6L579.1,388.4L578.0,383.8L577.3,378.0L576.9,374.5L576.5,371.1L573.8,367.7L569.7,365.6L566.3,361.9L562.9,358.2L559.2,356.7L556.9,355.4L554.5,354.1L552.2,352.1L549.9,350.0L550.3,346.5L549.7,343.1L550.3,338.4L551.8,334.6L547.9,330.3L549.9,324.9L552.2,323.1L554.6,321.3L557.1,318.9L556.9,314.4L556.7,309.9L556.6,305.5L558.7,304.9L560.8,304.4Z" fill="#b4eab5"/>
<path d="M588.4,400.8L592.4,400.6L596.4,400.4L600.4,400.1L604.4,399.9L608.5,399.6L612.5,399.4L616.5,399.1L620.5,398.8L624.5,398.5L628.5,398.2L632.5,397.9L636.6,397.6L637.3,401.5L638.1,405.4L639.5,408.5L640.9,411.5L642.9,415.3L643.4,420.8L643.9,426.3L644.3,431.8L644.8,437.3L645.3,442.9L645.8,448.4L646.2,453.9L646.7,459.4L647.2,464.9L647.7,470.4L646.1,476.4L647.4,481.0L649.6,485.5L645.6,491.8L642.5,497.9L641.1,502.7L641.9,507.4L640.2,509.9L640.0,515.3L637.2,516.7L634.5,518.1L636.4,523.3L632.9,525.0L630.3,523.6L627.4,523.2L624.4,522.8L622.6,525.8L623.3,528.1L618.6,526.8L616.9,522.9L615.7,521.1L615.5,517.2L615.3,513.4L612.2,510.4L609.1,507.5L605.2,505.8L602.0,503.2L598.9,500.6L600.4,496.3L601.7,490.8L602.5,486.5L601.3,484.7L596.8,483.1L592.3,482.6L591.1,478.0L587.9,474.2L585.1,472.5L582.2,469.6L579.3,466.7L578.0,461.6L577.8,456.3L577.5,451.0L579.0,445.1L582.6,440.9L585.0,437.5L583.8,434.5L582.5,431.6L582.7,426.4L586.7,425.0L590.7,423.6L594.7,421.5L597.1,415.5L597.3,409.6L594.8,407.9L592.4,406.2L588.4,400.8Z" fill="#b4eab5"/>
<path d="M654.8,413.1L657.1,408.8L659.5,404.6L661.0,400.9L662.5,397.3L662.7,392.8L662.9,388.3L661.3,383.2L659.7,378.1L657.4,373.4L655.2,368.7L655.6,365.1L656.0,361.6L654.7,359.1L657.3,354.4L657.5,349.9L657.7,345.5L658.8,342.2L660.0,338.9L662.1,337.5L664.1,336.1L667.7,331.1L667.7,336.1L667.7,341.1L670.2,339.0L670.9,334.2L671.6,331.0L672.3,327.8L674.6,326.8L677.0,325.8L674.0,321.0L676.7,318.6L679.4,316.2L681.7,317.4L684.0,318.7L687.2,320.0L690.4,321.4L692.9,322.0L695.5,322.6L698.4,323.3L701.4,323.9L702.0,327.0L702.5,330.1L705.3,334.7L705.7,339.5L706.1,344.4L704.7,348.8L702.8,353.8L700.5,355.0L698.1,356.3L698.0,362.2L699.5,364.3L701.8,364.0L704.1,363.7L706.3,360.9L708.6,355.4L711.0,353.6L713.5,351.9L716.3,354.1L719.1,356.3L720.7,361.0L722.3,365.7L724.1,370.8L725.8,375.8L725.6,380.3L725.4,384.8L722.8,386.4L720.2,387.9L717.4,392.6L717.0,395.8L716.5,399.0L713.6,403.0L712.4,407.1L708.6,407.8L704.8,408.4L701.0,409.0L697.1,409.6L693.3,410.2L689.5,410.7L685.6,411.0L681.8,411.3L677.9,411.6L674.1,411.9L670.2,412.1L666.4,412.4L662.5,412.6L658.7,412.8L654.8,413.1ZM586.5,306.1L589.7,303.9L592.9,301.7L596.1,299.5L600.0,298.6L603.9,297.8L606.6,296.2L609.3,294.6L611.8,291.5L614.4,288.4L617.8,285.7L621.1,283.0L624.7,283.2L628.3,283.3L624.8,288.7L622.6,291.2L620.4,293.7L617.6,299.1L621.4,296.0L623.8,295.8L626.1,295.6L629.4,296.9L632.1,299.9L634.8,302.9L638.0,303.2L641.3,303.5L644.2,304.1L647.1,304.8L650.4,301.8L653.7,298.8L657.1,297.9L660.2,297.4L663.2,296.8L666.3,296.3L669.8,295.0L673.2,293.8L673.2,297.0L673.2,300.1L676.4,300.1L679.6,300.1L683.5,298.9L688.2,304.1L691.2,308.4L694.7,307.6L698.3,306.8L699.5,309.7L695.9,310.2L692.3,310.6L688.6,310.7L685.0,310.8L682.2,312.5L679.3,314.1L676.9,312.6L674.4,311.2L670.7,310.8L667.0,310.4L663.6,312.4L660.2,314.4L657.4,314.7L654.6,315.0L652.3,316.4L650.0,317.8L650.5,323.5L647.0,320.4L644.5,320.6L642.1,320.9L640.1,325.7L637.4,331.2L634.6,336.7L632.4,334.1L633.3,331.0L630.0,331.3L630.1,327.8L630.2,324.3L627.9,322.7L625.6,321.2L624.8,318.4L621.5,317.8L618.2,317.1L615.4,317.0L612.6,316.9L608.4,314.6L605.0,313.9L601.7,313.2L598.3,312.5L595.0,311.8L591.7,311.1L589.1,308.6L586.5,306.1ZM603.9,275.3L606.9,273.2L609.9,271.1L612.9,268.9L615.8,266.8L612.1,269.2L608.4,271.5L606.1,273.4L603.9,275.3Z" fill="#a5e8b6"/>
<path d="M642.9,415.3L646.4,417.1L650.2,416.1L653.5,414.1L654.8,413.1L658.7,412.8L662.5,412.6L666.4,412.4L670.2,412.1L674.1,411.9L677.9,411.6L681.8,411.3L685.6,411.0L689.5,410.7L690.1,416.2L690.7,421.7L691.3,427.2L692.0,432.7L692.6,438.2L693.2,443.7L693.8,449.2L694.4,454.7L695.1,460.2L695.7,465.7L696.3,471.2L695.0,472.6L696.2,474.8L695.7,478.9L692.8,480.1L690.1,480.5L687.3,480.8L686.5,485.3L684.3,489.1L681.7,492.5L680.8,495.7L679.9,499.0L677.4,499.3L675.0,499.5L671.5,495.2L668.9,499.0L664.8,502.9L662.1,503.4L659.4,503.9L658.5,506.4L655.7,504.7L653.0,503.1L649.8,502.9L649.6,505.8L646.8,504.9L644.0,504.1L641.9,507.4L641.1,502.7L642.5,497.9L645.6,491.8L649.6,485.5L647.4,481.0L646.1,476.4L647.7,470.4L647.2,464.9L646.7,459.4L646.2,453.9L645.8,448.4L645.3,442.9L644.8,437.3L644.3,431.8L643.9,426.3L643.4,420.8L642.9,415.3Z" fill="#b7ebb4"/>
<path d="M689.5,410.7L693.3,410.2L697.1,409.6L701.0,409.0L704.8,408.4L708.6,407.8L712.4,407.1L717.0,409.1L721.6,410.9L725.5,409.8L726.1,411.9L729.1,411.3L732.0,410.7L734.9,410.1L739.0,409.2L743.0,408.2L746.1,404.7L749.3,401.1L753.1,398.9L756.9,396.6L759.1,395.3L761.3,394.0L762.2,399.1L763.0,404.3L763.9,409.4L764.7,414.6L765.6,419.8L766.4,424.9L764.4,426.7L765.7,431.4L765.4,435.0L765.1,438.7L765.1,442.2L763.7,446.5L764.2,448.8L762.1,451.2L759.2,455.7L754.8,455.9L753.3,459.5L750.6,464.4L750.9,467.4L748.4,466.9L745.9,466.3L744.6,471.0L743.6,471.8L744.0,476.8L740.7,481.5L737.9,482.4L736.0,479.6L732.9,479.1L729.7,475.7L727.0,477.6L724.4,479.5L720.5,479.4L716.6,479.4L714.5,477.3L711.8,477.1L709.0,475.4L706.3,473.6L702.0,470.6L699.1,470.9L696.3,471.2L695.7,465.7L695.1,460.2L694.4,454.7L693.8,449.2L693.2,443.7L692.6,438.2L692.0,432.7L691.3,427.2L690.7,421.7L690.1,416.2L689.5,410.7Z" fill="#beeeb2"/>
<path d="M641.9,507.4L644.0,504.1L646.8,504.9L649.6,505.8L649.8,502.9L653.0,503.1L655.7,504.7L658.5,506.4L659.4,503.9L662.1,503.4L664.8,502.9L668.9,499.0L671.5,495.2L675.0,499.5L677.4,499.3L679.9,499.0L680.8,495.7L681.7,492.5L684.3,489.1L686.5,485.3L687.3,480.8L690.1,480.5L692.8,480.1L695.7,478.9L696.2,474.8L695.0,472.6L696.3,471.2L699.1,470.9L702.0,470.6L706.3,473.6L709.0,475.4L711.8,477.1L714.5,477.3L716.6,479.4L720.5,479.4L724.4,479.5L727.0,477.6L729.7,475.7L732.9,479.1L736.0,479.6L737.9,482.4L738.3,485.7L738.8,489.1L741.0,492.0L743.1,494.9L746.0,498.5L748.2,499.4L752.1,500.7L749.5,503.9L746.9,507.1L744.2,509.3L741.4,511.5L740.5,514.0L737.4,518.0L733.3,522.1L730.7,523.4L728.0,524.7L724.0,526.8L719.7,527.3L715.4,527.7L711.1,528.2L706.8,528.6L702.5,529.0L698.1,529.4L693.8,529.8L689.5,530.2L685.2,530.6L680.9,530.9L676.5,531.3L672.2,531.6L668.1,531.9L664.1,532.2L660.0,532.5L655.9,532.8L651.8,533.1L647.8,533.3L643.7,533.6L644.0,537.8L639.8,538.1L635.6,538.4L631.4,538.8L627.2,539.1L623.0,539.4L618.8,539.7L622.7,537.5L623.9,533.5L623.3,528.1L622.6,525.8L624.4,522.8L627.4,523.2L630.3,523.6L632.9,525.0L636.4,523.3L634.5,518.1L637.2,516.7L640.0,515.3L640.2,509.9L641.9,507.4Z" fill="#bfeeb2"/>
<path d="M618.8,539.7L623.0,539.4L627.2,539.1L631.4,538.8L635.6,538.4L639.8,538.1L644.0,537.8L643.7,533.6L647.8,533.3L651.8,533.1L655.9,532.8L660.0,532.5L664.1,532.2L668.1,531.9L672.2,531.6L676.5,531.3L680.9,530.9L685.2,530.6L689.5,530.2L693.8,529.8L698.1,529.4L702.5,529.0L706.8,528.6L711.1,528.2L715.4,527.7L719.7,527.3L724.0,526.8L728.6,526.3L733.2,525.7L737.8,525.1L742.4,524.5L746.9,523.8L751.5,523.2L756.1,522.6L760.6,521.9L759.1,525.6L757.6,529.2L754.6,534.4L750.0,534.6L745.8,538.1L743.1,539.0L740.4,540.0L737.3,544.7L733.9,547.5L730.5,550.3L726.1,552.9L721.7,555.5L719.3,558.1L716.9,560.8L716.9,565.8L712.9,566.3L708.9,566.8L704.9,567.3L700.9,567.8L696.8,568.3L692.8,568.8L688.4,569.2L684.0,569.7L679.6,570.1L675.1,570.5L670.7,570.9L666.3,571.3L661.9,571.6L657.4,572.0L653.0,572.3L648.6,572.7L644.2,573.0L639.8,573.4L635.4,573.7L631.0,574.0L626.6,574.4L622.2,574.7L617.8,575.0L613.4,575.3L609.1,575.5L604.7,575.8L608.8,572.5L608.8,568.8L608.7,565.0L610.2,559.0L614.3,556.0L614.4,551.7L615.0,547.2L617.0,543.3L618.8,539.7Z" fill="#bdedb3"/>
<path d="M604.7,575.8L609.1,575.5L613.4,575.3L617.8,575.0L622.2,574.7L626.6,574.4L631.0,574.0L635.4,573.7L639.8,573.4L644.2,573.0L646.3,575.4L646.2,581.3L646.1,587.2L646.0,593.1L645.8,598.9L645.7,604.8L645.6,610.7L645.5,616.5L645.4,622.4L645.2,628.3L645.1,634.1L645.0,640.0L644.8,645.9L645.4,650.9L646.0,655.9L646.6,661.0L647.2,666.0L647.8,671.0L648.4,676.0L649.0,681.0L646.1,681.7L642.5,681.4L639.0,681.1L635.1,682.1L630.2,684.1L626.8,687.1L624.9,685.6L621.9,680.0L620.9,676.8L619.9,673.6L621.5,668.4L616.8,668.7L612.1,669.0L607.4,669.2L602.7,669.5L598.0,669.8L593.3,670.0L588.6,670.2L583.9,670.5L585.2,664.6L586.4,661.0L587.5,657.5L589.4,652.7L591.3,647.9L593.1,644.4L596.7,638.8L594.0,633.4L591.3,628.1L590.7,623.4L589.9,620.0L591.5,614.0L590.3,609.4L591.9,603.5L593.9,597.5L596.4,594.2L598.9,590.9L600.1,587.8L602.3,583.0L603.5,579.4L604.7,575.8Z" fill="#c0efb1"/>
<path d="M644.2,573.0L648.6,572.7L653.0,572.3L657.4,572.0L661.9,571.6L666.3,571.3L670.7,570.9L675.1,570.5L679.6,570.1L684.0,569.7L688.4,569.2L692.8,568.8L694.3,574.2L695.8,579.5L697.3,584.9L698.8,590.2L700.4,595.6L701.9,600.9L703.4,606.3L704.9,611.6L706.5,616.9L708.8,621.6L711.1,626.3L712.4,629.6L711.9,633.2L711.3,636.8L710.9,640.4L710.6,643.9L711.9,648.5L713.2,653.0L714.1,656.4L715.0,659.8L710.3,660.4L705.7,660.9L701.0,661.4L696.3,661.9L691.7,662.4L687.0,662.9L682.3,663.4L677.7,663.8L673.0,664.2L668.3,664.7L663.7,665.1L666.0,669.0L668.4,672.9L667.7,676.4L666.7,681.6L663.2,682.7L659.9,683.2L656.7,683.7L661.6,682.1L658.7,677.2L656.4,672.7L654.6,675.2L653.1,681.2L649.0,681.0L648.4,676.0L647.8,671.0L647.2,666.0L646.6,661.0L646.0,655.9L645.4,650.9L644.8,645.9L645.0,640.0L645.1,634.1L645.2,628.3L645.4,622.4L645.5,616.5L645.6,610.7L645.7,604.8L645.8,598.9L646.0,593.1L646.1,587.2L646.2,581.3L646.3,575.4L644.2,573.0Z" fill="#b7ebb4"/>
<path d="M692.8,568.8L696.8,568.3L700.9,567.8L704.9,567.3L708.9,566.8L712.9,566.3L716.9,565.8L721.5,565.1L726.0,564.5L730.5,563.9L735.0,563.2L739.5,562.6L737.8,566.4L736.0,570.1L740.6,572.5L745.2,574.8L748.8,579.6L752.4,584.4L756.6,587.4L760.9,590.3L766.5,594.9L771.6,599.7L776.7,604.5L778.4,608.9L780.0,613.4L783.2,617.6L786.3,621.9L789.3,623.4L792.3,624.9L789.5,629.6L788.5,635.7L787.5,639.4L786.6,643.0L785.4,648.0L785.6,652.5L785.8,657.1L780.7,656.9L777.8,657.4L774.8,657.8L775.3,661.3L775.2,666.9L771.3,662.6L766.5,662.9L761.7,663.3L756.9,663.7L752.1,664.1L747.3,664.4L742.5,664.7L737.7,665.1L732.9,665.4L728.1,665.7L723.3,666.0L718.5,666.2L716.8,663.0L715.0,659.8L714.1,656.4L713.2,653.0L711.9,648.5L710.6,643.9L710.9,640.4L711.3,636.8L711.9,633.2L712.4,629.6L711.1,626.3L708.8,621.6L706.5,616.9L704.9,611.6L703.4,606.3L701.9,600.9L700.4,595.6L698.8,590.2L697.3,584.9L695.8,579.5L694.3,574.2L692.8,568.8Z" fill="#b4eab5"/>
<path d="M666.7,681.6L667.7,676.4L668.4,672.9L666.0,669.0L663.7,665.1L668.3,664.7L673.0,664.2L677.7,663.8L682.3,663.4L687.0,662.9L691.7,662.4L696.3,661.9L701.0,661.4L705.7,660.9L710.3,660.4L715.0,659.8L716.8,663.0L718.5,666.2L723.3,666.0L728.1,665.7L732.9,665.4L737.7,665.1L742.5,664.7L747.3,664.4L752.1,664.1L756.9,663.7L761.7,663.3L766.5,662.9L771.3,662.6L775.2,666.9L775.3,661.3L774.8,657.8L777.8,657.4L780.7,656.9L785.8,657.1L787.0,661.7L788.2,666.4L789.9,670.8L791.6,675.2L794.5,680.3L797.3,685.3L800.2,690.3L804.0,695.0L807.8,699.7L809.9,702.9L812.0,706.0L811.9,711.9L814.3,715.8L816.7,719.7L819.0,723.6L821.4,727.5L823.8,731.4L826.3,735.3L827.7,739.7L829.2,744.2L829.8,748.7L830.4,753.3L830.5,757.4L830.6,761.5L830.7,765.6L829.5,769.0L828.2,772.3L827.1,778.3L823.1,780.2L820.0,781.2L816.9,782.3L812.7,783.0L811.6,779.1L810.4,775.2L807.2,771.6L804.0,768.1L800.2,767.5L796.3,766.9L794.6,762.5L791.0,759.6L787.4,756.6L785.6,751.6L783.8,746.7L778.0,742.8L775.1,737.4L770.2,732.3L773.3,731.8L775.5,725.7L771.9,725.0L768.4,726.7L767.3,723.4L768.3,717.4L769.3,711.4L768.2,706.9L767.0,702.3L764.5,699.2L759.2,697.6L755.1,694.0L751.1,690.5L750.6,686.6L746.0,683.0L741.7,680.6L737.3,678.2L733.4,679.2L730.9,683.7L727.6,685.9L724.3,688.0L721.5,690.1L718.7,692.2L715.1,691.8L711.5,691.4L709.9,686.2L706.7,683.8L703.4,681.5L699.2,680.0L695.0,678.4L690.9,677.9L686.8,677.4L682.2,678.2L677.6,679.1L673.0,679.9L669.9,680.8L666.7,681.6ZM829.8,775.5L827.4,780.3L824.9,785.0L820.7,788.9L816.5,792.8L812.4,794.3L808.3,795.9L804.2,797.4L800.1,798.8L799.9,797.7L804.0,796.0L808.1,794.4L812.1,792.7L816.2,791.0L820.9,786.6L825.5,782.1L829.8,775.5Z" fill="#aee9b5"/>
<path d="M739.5,562.6L742.8,561.3L746.0,560.0L750.0,557.9L754.0,555.8L758.7,555.4L763.4,554.9L768.0,554.4L772.7,553.9L777.4,553.4L778.0,555.7L780.5,555.9L783.0,556.1L783.3,560.3L787.5,559.7L791.8,559.1L796.0,558.5L800.2,557.9L804.4,557.3L809.4,560.9L814.4,564.5L819.4,568.2L824.5,571.8L829.5,575.3L826.4,577.7L823.4,580.0L821.7,584.5L820.1,588.9L819.8,592.6L817.7,597.7L813.4,600.8L810.9,603.6L808.4,606.4L805.9,609.2L803.5,612.0L799.4,617.4L795.2,621.6L792.3,624.9L789.3,623.4L786.3,621.9L783.2,617.6L780.0,613.4L778.4,608.9L776.7,604.5L771.6,599.7L766.5,594.9L760.9,590.3L756.6,587.4L752.4,584.4L748.8,579.6L745.2,574.8L740.6,572.5L736.0,570.1L737.8,566.4L739.5,562.6Z" fill="#beeeb2"/>
<path d="M760.6,521.9L765.1,521.3L769.5,520.6L773.9,520.0L778.3,519.3L782.7,518.6L787.2,517.9L791.6,517.2L796.0,516.5L800.4,515.8L804.8,515.0L809.2,514.3L813.6,513.5L818.0,512.7L822.4,512.0L826.8,511.2L831.2,510.4L835.6,509.5L840.0,508.7L844.4,507.9L848.8,507.0L853.2,506.2L857.6,505.3L861.9,504.4L866.3,503.5L865.9,508.4L865.8,512.5L863.3,514.0L860.7,515.5L857.3,517.4L853.9,519.3L856.8,519.5L859.7,519.7L863.3,518.8L866.9,517.8L871.7,517.9L872.6,521.3L873.6,524.7L870.0,527.9L866.2,532.3L863.3,532.3L860.4,532.3L857.0,532.1L853.7,532.0L859.2,535.6L861.9,539.2L858.3,540.5L854.7,541.8L859.8,543.2L864.5,542.7L864.0,546.1L863.4,549.6L859.9,550.3L856.4,551.0L852.9,551.8L849.8,555.9L846.8,560.1L843.7,564.3L840.7,568.5L840.6,573.2L836.9,573.9L833.2,574.6L829.5,575.3L824.5,571.8L819.4,568.2L814.4,564.5L809.4,560.9L804.4,557.3L800.2,557.9L796.0,558.5L791.8,559.1L787.5,559.7L783.3,560.3L783.0,556.1L780.5,555.9L778.0,555.7L777.4,553.4L772.7,553.9L768.0,554.4L763.4,554.9L758.7,555.4L754.0,555.8L750.0,557.9L746.0,560.0L742.8,561.3L739.5,562.6L735.0,563.2L730.5,563.9L726.0,564.5L721.5,565.1L716.9,565.8L716.9,560.8L719.3,558.1L721.7,555.5L726.1,552.9L730.5,550.3L733.9,547.5L737.3,544.7L740.4,540.0L743.1,539.0L745.8,538.1L750.0,534.6L754.6,534.4L757.6,529.2L759.1,525.6L760.6,521.9ZM867.5,504.4L869.6,508.2L871.7,511.9L874.4,516.1L877.0,520.4L879.4,525.8L879.5,529.2L879.7,532.5L875.3,534.6L871.3,538.4L869.0,540.9L866.6,543.4L864.0,549.5L863.7,550.7L865.7,547.3L867.7,543.9L870.0,541.4L872.4,538.9L876.4,535.3L879.2,533.1L878.7,529.6L878.3,526.1L875.7,520.6L873.1,516.4L870.5,512.2L869.0,508.3L867.5,504.4Z" fill="#c7f1b0"/>
<path d="M760.6,521.9L765.1,521.3L769.5,520.6L773.9,520.0L778.3,519.3L782.7,518.6L787.2,517.9L791.6,517.2L796.0,516.5L800.4,515.8L804.8,515.0L809.2,514.3L813.6,513.5L818.0,512.7L822.4,512.0L826.8,511.2L831.2,510.4L835.6,509.5L840.0,508.7L844.4,507.9L848.8,507.0L853.2,506.2L857.6,505.3L861.9,504.4L866.3,503.5L863.9,499.2L862.1,495.3L859.2,495.1L856.4,494.8L853.9,491.8L855.3,487.9L854.4,484.5L853.5,481.1L853.3,477.6L853.2,474.2L851.0,471.0L847.5,470.3L842.6,469.0L838.9,468.5L837.7,467.1L833.4,467.2L831.4,466.0L831.8,463.5L832.8,461.4L834.3,458.7L834.7,456.2L832.7,453.5L830.1,452.4L828.4,451.0L824.7,449.9L824.0,447.1L820.4,446.6L819.4,451.4L815.8,449.4L812.3,447.5L808.8,445.5L808.0,450.9L807.2,456.3L805.0,459.8L802.7,463.3L800.2,467.1L797.7,470.9L793.6,470.3L789.6,469.7L788.9,473.6L788.2,477.6L786.6,481.6L785.0,485.7L783.3,489.1L781.6,492.5L783.2,493.6L782.1,495.7L777.9,498.3L775.3,500.1L772.8,502.0L769.5,503.8L766.1,505.7L762.3,506.7L758.5,507.8L755.3,504.2L752.1,500.7L749.5,503.9L746.9,507.1L744.2,509.3L741.4,511.5L740.5,514.0L737.4,518.0L733.3,522.1L730.7,523.4L728.0,524.7L724.0,526.8L728.6,526.3L733.2,525.7L737.8,525.1L742.4,524.5L746.9,523.8L751.5,523.2L756.1,522.6L760.6,521.9ZM870.2,467.1L866.4,468.6L862.7,470.1L858.9,471.5L861.1,475.3L863.3,479.0L861.0,485.5L861.2,490.9L862.8,489.9L863.9,486.0L864.9,482.2L866.0,478.4L867.0,474.6L868.6,470.9L870.2,467.1Z" fill="#beeeb2"/>
<path d="M737.9,482.4L740.7,481.5L744.0,476.8L743.6,471.8L744.6,471.0L745.9,466.3L748.4,466.9L750.9,467.4L750.6,464.4L753.3,459.5L754.8,455.9L759.2,455.7L762.1,451.2L764.2,448.8L763.7,446.5L765.1,442.2L765.1,438.7L765.4,435.0L765.7,431.4L764.4,426.7L766.4,424.9L767.3,430.2L768.1,435.5L769.0,440.9L769.9,446.2L773.5,445.6L777.2,445.0L780.8,444.4L784.4,443.7L788.0,443.1L788.7,447.2L789.3,451.3L790.0,455.4L792.9,452.2L796.5,447.3L798.1,448.0L800.9,442.5L804.1,444.5L806.6,444.3L807.3,442.0L810.7,439.4L814.3,441.1L817.4,440.5L818.5,444.4L820.4,446.6L819.4,451.4L815.8,449.4L812.3,447.5L808.8,445.5L808.0,450.9L807.2,456.3L805.0,459.8L802.7,463.3L800.2,467.1L797.7,470.9L793.6,470.3L789.6,469.7L788.9,473.6L788.2,477.6L786.6,481.6L785.0,485.7L783.3,489.1L781.6,492.5L783.2,493.6L782.1,495.7L777.9,498.3L775.3,500.1L772.8,502.0L769.5,503.8L766.1,505.7L762.3,506.7L758.5,507.8L755.3,504.2L752.1,500.7L748.2,499.4L746.0,498.5L743.1,494.9L741.0,492.0L738.8,489.1L738.3,485.7L737.9,482.4Z" fill="#c5f1b0"/>
<path d="M788.0,443.1L792.3,442.3L796.6,441.6L800.9,440.8L805.2,440.0L809.4,439.2L813.7,438.4L818.0,437.6L822.3,436.7L826.5,435.9L830.8,435.0L835.1,434.1L839.3,433.3L843.6,432.4L847.8,431.5L852.1,430.6L853.4,435.3L854.7,440.1L856.1,444.8L857.4,449.6L858.7,454.3L860.1,459.0L863.8,458.3L867.6,457.6L871.4,456.8L870.9,462.9L870.2,467.1L866.4,468.6L862.7,470.1L858.9,471.5L859.3,470.7L857.0,467.1L854.9,465.7L851.9,464.6L849.3,461.1L848.9,459.3L847.7,455.9L849.6,453.6L846.9,452.5L846.1,450.3L847.1,445.5L849.3,439.5L849.9,438.2L849.7,434.7L847.9,435.5L848.0,437.9L845.0,440.9L844.5,442.7L843.6,445.3L844.3,447.6L844.3,450.2L844.1,451.9L844.2,456.9L844.8,458.9L848.3,463.5L848.0,465.5L849.2,467.6L851.0,471.0L847.5,470.3L842.6,469.0L838.9,468.5L837.7,467.1L833.4,467.2L831.4,466.0L831.8,463.5L832.8,461.4L834.3,458.7L834.7,456.2L832.7,453.5L830.1,452.4L828.4,451.0L824.7,449.9L824.0,447.1L820.4,446.6L818.5,444.4L817.4,440.5L814.3,441.1L810.7,439.4L807.3,442.0L806.6,444.3L804.1,444.5L800.9,442.5L798.1,448.0L796.5,447.3L792.9,452.2L790.0,455.4L789.3,451.3L788.7,447.2L788.0,443.1Z" fill="#a4e7b6"/>
<path d="M852.1,430.6L852.9,428.5L854.8,427.1L856.9,426.9L858.3,427.3L856.7,431.7L856.7,436.0L860.3,440.0L863.3,445.4L866.1,447.2L868.9,448.9L870.1,452.9L871.4,456.8L867.6,457.6L863.8,458.3L860.1,459.0L858.7,454.3L857.4,449.6L856.1,444.8L854.7,440.1L853.4,435.3L852.1,430.6Z" fill="#b5ebb5"/>
<path d="M761.3,394.0L764.5,391.4L767.8,388.9L770.4,387.0L773.0,385.1L773.5,388.2L774.1,391.4L778.2,390.6L782.3,389.9L786.5,389.2L790.6,388.4L794.7,387.7L798.9,386.9L803.0,386.1L807.1,385.3L811.2,384.5L815.3,383.7L819.4,382.9L823.6,382.0L827.7,381.2L831.8,380.3L835.9,379.5L840.0,378.6L844.1,377.7L848.2,376.8L851.0,378.6L853.9,380.3L855.2,384.8L858.5,387.7L862.4,388.9L859.2,394.7L857.1,399.5L857.2,402.8L857.4,406.2L860.3,408.9L863.3,412.7L867.4,415.7L865.6,418.9L862.3,422.8L860.3,425.1L858.3,427.3L856.9,426.9L854.8,427.1L852.9,428.5L852.1,430.6L847.8,431.5L843.6,432.4L839.3,433.3L835.1,434.1L830.8,435.0L826.5,435.9L822.3,436.7L818.0,437.6L813.7,438.4L809.4,439.2L805.2,440.0L800.9,440.8L796.6,441.6L792.3,442.3L788.0,443.1L784.4,443.7L780.8,444.4L777.2,445.0L773.5,445.6L769.9,446.2L769.0,440.9L768.1,435.5L767.3,430.2L766.4,424.9L765.6,419.8L764.7,414.6L763.9,409.4L763.0,404.3L762.2,399.1L761.3,394.0Z" fill="#b5eab5"/>
<path d="M862.4,388.9L866.2,390.2L870.1,391.5L873.9,392.8L877.8,394.0L877.8,397.6L877.4,401.3L874.6,403.4L874.5,406.8L877.3,407.3L878.9,406.3L880.2,410.3L880.4,415.5L880.7,419.4L881.1,423.3L879.4,428.4L877.6,433.5L875.9,437.0L874.1,440.6L870.7,445.4L870.3,439.7L867.5,439.4L864.7,439.1L859.5,436.1L856.7,431.7L858.3,427.3L860.3,425.1L862.3,422.8L865.6,418.9L867.4,415.7L863.3,412.7L860.3,408.9L857.4,406.2L857.2,402.8L857.1,399.5L859.2,394.7L862.4,388.9Z" fill="#96e1b8"/>
<path d="M773.0,385.1L776.0,382.0L779.0,378.9L782.3,373.3L784.9,368.6L781.9,364.4L780.5,360.3L783.5,358.9L786.5,357.5L789.5,356.1L793.3,356.1L797.1,356.1L801.0,356.0L804.8,356.0L808.1,355.2L811.4,354.4L814.6,353.6L818.3,350.6L822.0,347.5L824.2,346.0L826.5,344.5L825.6,340.5L824.8,336.5L821.2,331.7L824.4,328.7L827.6,325.6L829.9,320.7L832.2,315.8L834.8,312.2L837.6,310.2L840.4,308.2L843.2,306.2L846.8,305.3L850.5,304.5L854.1,303.6L857.7,302.7L861.4,301.8L865.0,300.9L866.2,304.6L867.4,308.4L868.6,312.2L868.9,318.1L869.2,324.0L871.9,329.4L871.9,332.9L874.6,333.5L875.7,338.0L876.8,342.6L877.8,347.1L878.9,351.7L878.9,357.3L878.9,362.9L879.0,368.5L880.0,374.2L881.1,380.0L882.2,385.7L883.7,387.5L880.1,391.1L881.9,393.3L880.5,396.5L878.4,398.7L877.4,401.3L877.8,397.6L877.8,394.0L873.9,392.8L870.1,391.5L866.2,390.2L862.4,388.9L858.5,387.7L855.2,384.8L853.9,380.3L851.0,378.6L848.2,376.8L844.1,377.7L840.0,378.6L835.9,379.5L831.8,380.3L827.7,381.2L823.6,382.0L819.4,382.9L815.3,383.7L811.2,384.5L807.1,385.3L803.0,386.1L798.9,386.9L794.7,387.7L790.6,388.4L786.5,389.2L782.3,389.9L778.2,390.6L774.1,391.4L773.5,388.2L773.0,385.1ZM877.7,404.1L880.1,403.6L882.6,403.0L886.3,401.5L890.0,400.0L893.1,398.0L896.2,396.1L899.3,394.1L902.4,392.2L905.5,390.3L908.7,387.1L911.8,383.9L907.9,385.4L905.2,387.3L902.5,389.2L904.6,383.3L902.2,386.2L899.8,389.1L895.7,390.3L891.5,391.4L888.2,392.7L884.9,394.0L883.0,396.0L881.1,398.0L878.5,400.6L877.7,404.1ZM874.5,406.8L877.2,405.0L876.9,403.1L874.7,403.6L874.5,406.8Z" fill="#70d3b8"/>
<path d="M879.0,368.5L883.0,367.6L887.0,366.7L891.1,365.8L895.1,364.9L899.1,364.0L903.2,363.1L907.2,362.1L908.4,366.6L909.7,371.1L910.9,375.7L910.4,378.5L906.4,379.7L902.4,381.5L899.3,382.4L896.3,383.3L893.3,384.2L891.0,385.9L888.7,387.5L885.9,390.4L883.9,391.8L881.9,393.3L880.1,391.1L883.7,387.5L882.2,385.7L881.1,380.0L880.0,374.2L879.0,368.5Z" fill="#4cc4b8"/>
<path d="M907.2,362.1L908.4,366.6L909.7,371.1L910.9,375.7L910.4,378.5L913.4,377.1L916.4,375.7L916.3,371.1L915.8,366.4L917.7,368.3L920.4,371.9L921.6,370.9L920.2,367.6L916.4,365.5L914.1,360.3L910.7,361.2L907.2,362.1Z" fill="#65ceb7"/>
<path d="M878.9,351.7L882.2,351.0L885.5,350.3L888.9,349.6L892.2,348.8L896.0,348.0L899.9,347.2L903.7,346.3L907.5,345.5L911.4,344.6L914.6,340.1L918.2,338.6L923.2,342.6L920.9,345.7L918.6,348.7L918.7,352.3L921.5,352.8L924.3,353.2L926.6,358.6L930.2,362.0L934.4,360.7L938.5,359.5L936.9,357.0L932.5,354.1L935.0,353.4L938.2,355.4L939.1,358.6L940.0,361.7L937.2,363.0L934.4,364.2L931.9,366.3L929.3,368.3L927.9,363.1L926.5,364.7L924.1,369.0L921.6,370.9L920.2,367.6L916.4,365.5L914.1,360.3L910.7,361.2L907.2,362.1L903.2,363.1L899.1,364.0L895.1,364.9L891.1,365.8L887.0,366.7L883.0,367.6L879.0,368.5L878.9,362.9L878.9,357.3L878.9,351.7ZM927.3,373.0L930.4,369.0L933.4,370.1L932.8,371.5L930.1,372.2L927.3,373.0ZM937.3,371.5L940.0,368.3L942.2,370.8L939.8,371.1L937.3,371.5Z" fill="#48c3b8"/>
<path d="M865.0,300.9L868.7,300.0L872.4,299.0L876.0,298.1L879.7,297.2L883.4,296.3L887.0,295.3L890.7,294.4L894.4,293.4L894.8,296.4L895.1,299.5L895.8,305.3L892.8,307.9L889.8,310.5L890.9,316.2L890.6,319.9L890.3,323.6L889.2,327.5L888.8,330.0L889.4,334.6L889.9,339.3L891.1,344.1L892.2,348.8L888.9,349.6L885.5,350.3L882.2,351.0L878.9,351.7L877.8,347.1L876.8,342.6L875.7,338.0L874.6,333.5L871.9,332.9L871.9,329.4L869.2,324.0L868.9,318.1L868.6,312.2L867.4,308.4L866.2,304.6L865.0,300.9Z" fill="#80d6b9"/>
<path d="M894.4,293.4L894.8,288.7L897.1,286.9L899.3,285.1L901.1,290.7L902.9,296.2L904.8,301.7L906.6,307.2L908.2,312.7L909.8,318.1L911.3,323.6L912.5,327.4L915.9,330.1L918.9,333.6L918.2,338.6L914.6,340.1L911.4,344.6L907.5,345.5L903.7,346.3L899.9,347.2L896.0,348.0L892.2,348.8L891.1,344.1L889.9,339.3L889.4,334.6L888.8,330.0L889.2,327.5L890.3,323.6L890.6,319.9L890.9,316.2L889.8,310.5L892.8,307.9L895.8,305.3L895.1,299.5L894.8,296.4L894.4,293.4Z" fill="#4dc4b8"/>
<path d="M899.3,285.1L903.2,285.3L903.1,281.7L905.2,276.9L907.2,272.1L908.3,267.0L906.0,261.7L908.6,256.1L909.8,250.7L911.0,245.3L912.2,239.8L913.3,234.4L914.5,229.0L917.9,231.4L921.3,233.7L924.0,231.6L926.6,229.4L929.3,227.3L934.0,229.2L938.7,231.2L940.4,236.3L942.0,241.5L943.6,246.7L945.2,251.8L946.8,257.0L948.1,259.0L951.1,260.5L954.1,262.0L955.2,265.4L956.2,268.7L959.6,271.3L962.8,273.3L966.0,275.4L967.3,276.9L964.6,280.4L961.8,284.0L959.1,286.4L956.4,288.9L953.7,291.3L951.8,293.7L949.9,296.1L945.3,295.1L940.7,294.0L937.6,295.4L937.9,299.3L938.2,303.2L935.8,307.0L933.4,310.7L930.9,312.6L928.4,314.5L925.5,316.5L922.6,318.6L922.0,322.4L920.5,326.4L919.7,330.0L918.9,333.6L915.9,330.1L912.5,327.4L911.3,323.6L909.8,318.1L908.2,312.7L906.6,307.2L904.8,301.7L902.9,296.2L901.1,290.7L899.3,285.1Z" fill="#7bd5b9"/>
<path d="M123.7,665.6L122.9,665.3L122.1,665.0L121.3,664.7L120.6,664.4L119.8,664.1L119.0,663.7L118.2,663.4L117.5,663.1L116.8,663.3L116.1,663.4L115.4,663.6L114.7,663.7L114.0,663.8L113.3,664.0L112.6,664.1L111.9,664.3L111.3,664.4L110.6,664.5L109.8,664.4L109.1,664.2L108.4,664.1L107.7,663.9L106.9,663.8L106.2,663.6L105.5,663.5L104.8,663.3L104.1,663.1L103.3,663.0L102.6,662.8L101.9,662.6L101.2,662.6L100.5,662.6L99.8,662.6L99.1,662.6L98.4,662.6L97.7,662.6L97.0,662.6L96.3,662.6L95.6,662.1L94.9,661.6L94.2,661.1L93.5,660.6L92.8,660.1L92.1,659.6L91.4,659.5L90.7,659.5L90.1,659.4L89.4,659.3L88.7,659.3L88.0,659.2L87.3,659.1L86.7,659.0L86.0,659.0L85.3,658.9L84.6,658.4L84.0,658.0L83.3,657.6L82.6,657.1L82.0,656.7L81.3,656.2L80.7,655.8L80.0,655.3L79.3,656.0L78.6,656.7L77.9,657.4L77.2,658.0L76.5,658.7L75.8,659.4L75.1,659.5L74.4,659.7L73.7,659.8L73.0,660.0L72.3,660.1L71.6,660.2L70.9,660.4L70.2,660.5L69.5,660.8L68.8,661.0L68.1,661.3L67.5,661.5L66.8,661.8L66.1,662.0L65.4,662.3L64.7,662.5L64.0,663.4L63.2,664.2L62.5,665.0L61.8,665.9L61.0,666.7L60.4,668.4L59.7,670.2L58.9,670.5L58.1,670.9L57.4,671.3L56.6,671.7L55.8,672.0L55.0,672.4L54.2,672.7L53.5,672.6L52.8,672.5L52.1,672.4L51.4,672.2L50.7,672.1L49.9,673.4L49.0,674.7L48.2,676.0L48.8,676.6L49.5,677.2L50.1,677.9L50.8,678.5L51.3,679.1L51.9,679.7L52.5,680.3L53.1,680.9L53.6,681.5L54.2,682.1L54.7,683.4L55.1,684.7L55.5,686.0L56.0,687.3L56.6,687.7L57.3,688.1L57.9,688.4L58.6,688.8L59.2,689.2L59.9,689.4L60.5,689.6L61.1,689.7L61.7,689.9L62.2,691.2L62.7,692.5L63.3,693.8L63.8,695.0L62.9,695.4L62.1,695.7L61.2,696.0L60.3,696.3L59.6,695.7L59.0,695.1L58.3,694.4L57.6,693.8L56.9,693.2L56.3,692.6L55.6,692.0L54.8,691.9L54.0,691.7L53.2,691.6L52.4,691.5L51.5,691.8L50.7,692.0L49.8,692.3L48.9,692.5L48.1,692.8L47.2,693.0L46.2,693.5L45.3,694.0L44.4,694.5L43.4,695.0L42.5,695.5L41.5,696.0L40.6,696.4L39.6,696.9L40.3,697.5L41.1,698.0L41.8,698.6L42.5,699.2L43.2,699.7L44.0,700.3L44.7,700.8L44.4,702.4L44.1,704.0L43.8,705.6L44.6,706.1L45.4,706.5L46.2,707.0L47.0,707.4L47.8,707.6L48.7,707.7L49.5,707.9L50.3,708.0L51.1,708.1L52.0,708.3L52.8,708.4L53.6,708.5L54.5,708.6L55.3,708.7L56.1,708.8L56.9,708.8L57.7,708.9L58.4,708.9L59.2,709.0L60.0,709.0L60.8,709.1L61.6,709.1L61.8,707.6L62.1,706.0L62.1,707.8L62.2,709.5L62.3,711.3L62.3,713.0L62.4,714.7L61.5,716.2L60.7,717.6L59.9,717.6L59.2,717.5L58.5,717.5L57.8,717.5L56.8,717.9L55.8,718.3L54.9,718.6L53.9,719.0L52.9,719.4L51.9,719.8L51.1,719.9L50.3,720.1L49.5,720.2L48.6,720.4L47.8,720.5L47.0,720.6L46.3,722.2L45.7,723.7L44.7,724.7L43.7,725.7L42.7,726.7L41.6,727.7L40.6,728.6L40.4,729.7L40.2,730.8L40.6,732.3L41.0,733.9L41.4,735.4L41.9,736.9L42.5,738.4L43.0,739.8L43.8,741.1L44.6,742.4L45.4,743.7L46.2,745.1L47.2,745.1L48.1,745.2L49.0,745.2L50.0,745.3L50.9,745.3L51.8,745.3L52.7,745.4L53.6,746.5L54.5,747.7L54.2,749.4L53.8,751.1L53.5,752.9L52.9,754.6L52.4,756.4L53.4,756.4L54.3,756.4L55.3,756.4L56.2,756.3L57.2,756.3L58.1,756.3L59.1,755.3L60.0,754.4L60.9,755.3L61.8,756.2L62.7,757.1L63.6,758.0L64.5,758.9L65.5,759.8L66.6,758.0L67.8,756.3L68.9,756.5L69.9,756.7L70.9,756.9L72.0,757.2L73.0,757.4L74.0,757.6L73.4,759.0L72.8,760.4L72.1,761.8L71.9,763.7L71.7,765.6L71.4,767.5L70.4,768.3L69.4,769.2L68.4,770.0L67.4,770.9L66.3,771.7L65.2,772.6L64.1,773.5L63.0,774.3L61.8,775.2L60.7,776.1L59.5,777.0L58.4,777.8L57.2,778.7L56.0,779.3L54.8,779.9L53.6,780.4L52.4,781.0L51.2,781.5L50.0,782.1L48.9,782.6L47.7,783.1L46.5,783.6L45.3,784.2L44.1,784.9L42.9,785.6L41.7,785.9L40.5,786.2L39.3,786.4L38.0,786.7L36.8,787.0L35.6,787.3L36.1,788.2L36.7,789.1L37.8,789.0L38.9,788.8L40.1,788.6L41.2,788.4L42.3,788.2L43.4,788.0L44.5,787.8L45.7,787.0L46.9,786.2L48.1,785.4L49.1,785.4L50.2,785.3L51.2,785.2L52.2,785.1L53.2,785.0L54.3,784.9L55.5,784.2L56.7,783.5L57.9,783.1L59.1,782.7L60.3,782.3L61.5,781.9L62.6,780.9L63.7,780.0L64.7,779.0L65.8,778.0L66.9,777.0L68.0,776.4L69.1,775.7L70.2,775.1L71.3,774.4L72.4,773.8L73.5,773.1L74.5,772.4L75.6,771.8L76.8,770.4L77.9,769.0L79.0,767.6L80.2,766.2L81.3,765.4L82.3,764.6L83.4,763.8L84.5,763.0L85.6,762.2L86.7,761.4L87.6,759.9L88.6,758.4L89.6,756.9L89.0,755.1L88.4,753.4L87.9,751.6L88.8,750.5L89.7,749.3L90.5,748.2L91.4,747.0L92.3,745.8L93.2,744.8L94.0,743.8L94.9,742.7L95.8,741.7L96.6,740.3L97.5,738.9L98.3,737.5L99.3,737.4L100.3,737.4L101.3,737.3L102.2,737.3L101.3,738.3L100.4,739.4L99.7,740.3L98.9,741.1L98.2,742.0L97.4,742.8L97.3,744.8L97.1,746.7L97.0,748.7L96.9,750.6L96.1,752.3L95.4,753.9L96.4,753.9L97.4,753.8L98.5,753.8L99.5,753.8L100.5,752.7L101.5,751.6L102.4,750.5L103.4,749.5L104.3,748.4L105.3,747.3L106.3,747.2L107.3,747.1L108.3,747.1L109.3,747.0L108.9,745.3L108.4,743.6L108.0,741.9L107.6,740.2L108.5,739.8L109.4,739.4L110.3,739.0L111.2,738.5L112.1,738.1L113.0,737.9L113.8,737.6L114.6,737.4L115.5,737.1L116.3,736.9L117.4,738.4L118.5,739.9L119.6,741.4L120.6,741.7L121.5,742.0L122.5,742.2L123.4,742.5L124.3,743.0L125.2,743.5L126.1,744.0L127.0,744.5L128.0,744.3L128.9,744.0L129.9,743.8L130.9,743.6L131.9,743.3L132.9,743.1L133.9,743.1L134.9,743.2L136.0,743.2L137.0,743.2L138.0,743.4L139.0,743.6L139.9,743.9L140.9,744.1L141.9,744.3L142.9,744.5L143.9,744.7L144.9,744.9L145.9,745.5L147.0,746.0L148.1,746.5L149.2,747.1L150.2,747.6L151.3,748.1L152.4,748.6L153.5,749.2L154.6,749.7L155.7,750.3L156.8,750.9L157.9,751.4L159.0,752.0L160.1,752.5L161.0,751.9L161.9,751.2L162.8,750.5L163.7,749.8L164.6,749.2L165.4,748.5L166.2,747.8L167.3,748.5L168.4,749.2L169.5,749.8L170.7,750.7L171.9,751.7L173.0,752.6L174.4,754.0L175.8,755.4L177.2,756.8L178.6,758.0L180.1,759.3L181.6,760.5L183.4,762.0L185.1,763.6L186.3,764.9L187.6,766.2L188.9,767.4L190.3,768.7L191.7,769.9L193.0,770.6L194.2,771.4L194.1,769.4L194.0,767.4L193.8,765.4L193.7,763.4L193.5,761.4L192.5,760.1L191.3,759.9L190.0,759.7L188.8,759.6L187.6,759.4L186.4,759.2L185.1,759.0L183.9,758.8L182.2,757.3L180.5,755.7L179.2,754.3L177.9,752.9L176.5,751.4L175.2,750.0L174.0,748.6L172.7,747.1L171.4,745.8L170.1,744.5L168.8,743.2L167.7,743.0L166.7,742.8L165.7,742.6L164.6,742.4L163.9,741.0L163.2,739.6L162.3,740.1L161.4,740.6L160.5,741.1L159.6,741.6L158.7,742.1L157.8,742.6L157.1,743.9L156.4,745.3L155.7,746.6L154.9,748.0L154.4,746.6L153.8,745.3L152.7,744.5L151.6,743.7L150.4,742.9L149.3,742.0L148.2,741.2L147.0,740.7L145.9,740.1L144.8,740.1L143.8,740.1L142.8,740.0L141.8,740.0L140.8,740.0L139.7,740.0L138.7,739.9L138.1,738.0L137.7,736.1L137.3,734.1L136.9,732.1L136.5,730.2L136.1,728.2L135.7,726.2L135.3,724.3L134.9,722.3L134.5,720.3L134.2,718.3L133.8,716.4L133.4,714.4L133.0,712.5L132.6,710.5L132.2,708.5L131.8,706.6L131.4,704.6L131.0,702.6L130.7,700.7L130.3,698.7L129.9,696.8L129.5,694.8L129.1,692.8L128.7,690.9L128.3,688.9L127.9,687.0L127.6,685.0L127.2,683.1L126.8,681.1L126.4,679.2L126.0,677.2L125.6,675.3L125.2,673.4L124.9,671.4L124.5,669.5L124.1,667.5L123.7,665.6ZM160.8,753.6L161.7,753.3L162.6,753.0L163.4,752.7L164.3,752.3L165.2,752.0L166.0,751.7L167.0,753.4L167.9,755.1L168.9,756.8L169.7,758.3L170.5,759.7L171.2,761.2L172.0,762.7L172.3,764.5L172.6,766.3L171.3,764.9L169.9,763.4L168.6,762.0L167.3,760.7L166.0,759.3L164.7,758.0L163.4,756.6L162.1,755.1L160.8,753.6ZM167.5,750.4L168.6,750.8L169.8,751.2L170.9,751.5L171.9,753.0L173.0,754.5L174.0,756.0L175.1,757.5L176.1,758.9L177.2,760.2L178.2,761.6L177.5,762.3L176.8,763.1L176.1,763.9L175.4,764.6L174.4,762.8L173.4,761.0L172.4,759.2L171.4,757.4L170.4,755.7L169.4,753.9L168.4,752.2L167.5,750.4ZM177.0,763.7L178.3,764.0L179.6,764.4L180.9,764.7L182.2,765.0L183.4,766.4L184.6,767.8L185.8,769.2L187.0,770.7L186.4,772.0L185.7,773.4L185.0,774.8L183.6,773.5L182.2,772.3L180.8,771.0L179.9,769.2L178.9,767.4L178.0,765.5L177.0,763.7ZM94.0,767.0L93.8,765.1L93.6,763.2L93.5,761.3L92.5,761.9L91.6,762.6L90.6,763.2L89.7,763.8L88.7,764.5L87.8,765.2L86.9,765.9L85.9,766.5L85.0,767.2L84.0,767.9L84.9,769.8L85.8,771.7L86.7,773.6L87.8,773.2L88.9,772.8L90.0,772.4L91.1,771.9L92.1,770.3L93.1,768.7L94.0,767.0ZM40.0,741.0L39.1,740.4L38.2,739.8L37.1,739.9L36.1,740.1L35.1,740.2L34.1,740.3L33.1,740.5L33.7,741.6L34.3,742.7L34.9,743.8L35.9,743.9L36.9,744.0L37.9,744.1L38.8,744.1L39.8,744.2L39.9,742.6L40.0,741.0ZM33.6,714.7L32.9,714.0L32.3,713.3L31.6,712.6L31.0,711.9L30.3,711.2L29.7,710.5L28.9,710.2L28.2,710.0L27.4,709.7L26.6,709.5L25.9,709.2L25.1,709.0L24.3,708.7L23.6,708.5L23.3,710.1L23.1,711.7L23.8,712.2L24.6,712.7L25.3,713.1L26.1,713.6L26.8,714.1L27.6,714.6L28.4,714.6L29.3,714.6L30.1,714.6L31.0,714.7L31.9,714.7L32.7,714.7L33.6,714.7ZM28.6,791.4L27.6,791.2L26.7,791.1L25.7,790.9L24.8,790.7L23.6,791.8L22.4,792.9L21.2,794.0L20.0,795.1L21.2,795.0L22.5,795.0L23.7,794.9L25.0,794.9L26.2,793.7L27.4,792.6L28.6,791.4ZM19.3,793.3L18.4,792.9L17.5,792.5L16.0,794.2L14.4,796.0L12.9,797.7L14.2,797.5L15.4,797.4L16.8,796.1L18.1,794.7L19.3,793.3ZM-3.8,796.7L-4.9,796.4L-6.0,796.1L-7.0,795.8L-8.1,795.4L-9.2,795.1L-10.3,794.8L-11.4,794.5L-12.6,794.6L-13.7,794.7L-14.9,794.8L-16.1,794.9L-17.3,795.1L-18.5,795.2L-17.4,795.5L-16.4,795.8L-15.4,796.2L-14.3,796.5L-13.3,796.8L-12.2,797.2L-11.0,797.1L-9.8,797.1L-8.6,797.0L-7.4,796.9L-6.2,796.9L-5.0,796.8L-3.8,796.7ZM-23.5,794.3L-24.4,793.8L-25.3,793.4L-26.2,792.9L-27.5,792.9L-28.8,792.8L-30.1,792.8L-31.5,792.7L-30.4,793.5L-29.4,794.3L-28.3,795.1L-27.3,796.0L-26.0,795.4L-24.7,794.9L-23.5,794.3Z" fill="#54c7b6"/>
<path d="M304.7,766.0L310.2,769.2L314.6,771.3L319.0,773.4L321.6,778.4L324.6,780.8L327.6,783.2L323.5,787.7L318.0,790.0L312.5,792.4L308.6,797.5L303.3,793.1L303.5,788.5L303.7,783.8L300.4,778.1L302.8,774.7L305.2,771.3L304.7,766.0ZM286.3,752.0L288.3,748.5L291.1,751.5L295.9,750.4L298.9,752.7L301.8,755.0L299.2,757.7L295.5,758.1L291.8,758.5L291.3,754.3L287.9,753.6L286.3,752.0ZM286.1,760.3L289.4,758.5L289.4,760.8L286.1,760.3ZM278.3,751.5L282.8,751.1L283.9,753.8L280.7,755.5L278.3,751.5ZM273.0,746.9L274.1,744.2L277.4,744.6L280.7,745.1L285.9,745.5L282.4,748.1L277.7,747.5L273.0,746.9ZM251.7,735.8L255.6,735.4L258.3,732.8L260.2,735.8L262.2,738.8L265.4,742.1L261.9,743.2L258.7,742.7L255.4,742.3L252.8,738.3L251.7,735.8ZM219.2,724.7L223.2,720.6L226.4,721.6L229.6,722.5L229.0,727.1L225.2,728.7L219.8,726.6L219.2,724.7ZM209.0,728.5L212.3,725.3L213.3,726.3L210.0,730.8L209.0,728.5Z" fill="#5a68a4"/>
<path d="M853.4,480.6L847.2,477.6L842.0,475.1" fill="none" stroke-width="1.2" stroke-linecap="round"/>
<path d="M853.4,489.5L849.1,486.8L844.8,484.1" fill="none" stroke-width="1.2" stroke-linecap="round"/>
<path d="M855.6,495.7L849.9,495.0L847.4,491.9L843.5,491.5" fill="none" stroke-width="1.2" stroke-linecap="round"/>
<path d="M843.2,444.9L840.2,443.9" fill="none" stroke-width="1.2" stroke-linecap="round"/>
<path d="M853.9,457.0L854.1,453.4L855.1,449.6" fill="none" stroke-width="1.2" stroke-linecap="round"/>
</svg>
<svg id="labels" width="975" height="800" viewBox="0 0 975 800">
<text font-size="18.8" transform="translate(121.8,235.88) scale(0.660,1)">WA</text>
<text font-size="18.8" transform="translate(121.8,258.78) scale(0.745,1)">9.05¢</text>
<text font-size="18.8" transform="translate(92.4,314.38) scale(0.660,1)">OR</text>
<text font-size="18.8" transform="translate(92.4,337.38) scale(0.745,1)">9.26¢</text>
<text font-size="18.8" transform="translate(187.8,338.88) scale(0.660,1)">ID</text>
<text font-size="18.8" transform="translate(187.8,361.78) scale(0.723,1)">8.51¢</text>
<text font-size="18.8" transform="translate(287,280.78) scale(0.660,1)">MT</text>
<text font-size="18.8" transform="translate(287,303.88) scale(0.745,1)">9.97¢</text>
<text font-size="18.8" transform="translate(430.4,278.58) scale(0.660,1)">ND</text>
<text font-size="18.8" transform="translate(430.4,301.68) scale(0.745,1)">8.42¢</text>
<text font-size="18.8" transform="translate(430,348.78) scale(0.660,1)">SD</text>
<text font-size="18.8" transform="translate(430,371.78) scale(0.723,1)">10.44¢</text>
<text font-size="18.8" transform="translate(305.3,370.88) scale(0.660,1)">WY</text>
<text font-size="18.8" transform="translate(305.3,394.08) scale(0.745,1)">8.24¢</text>
<text font-size="18.8" transform="translate(140.1,434.58) scale(0.660,1)">NV</text>
<text font-size="18.8" transform="translate(140.1,457.58) scale(0.723,1)">10.94¢</text>
<text font-size="18.8" transform="translate(214.2,453.58) scale(0.660,1)">UT</text>
<text font-size="18.8" transform="translate(214.2,476.58) scale(0.745,1)">8.8¢</text>
<text font-size="18.8" transform="translate(67.7,469.28) scale(0.660,1)">CA</text>
<text font-size="18.8" transform="translate(67.7,492.68) scale(0.745,1)">22.33¢</text>
<text font-size="18.8" transform="translate(328.5,475.28) scale(0.660,1)">CO</text>
<text font-size="18.8" transform="translate(328.5,498.38) scale(0.701,1)">11.75¢</text>
<text font-size="18.8" transform="translate(435.4,417.38) scale(0.660,1)">NE</text>
<text font-size="18.8" transform="translate(435.4,440.58) scale(0.745,1)">8.83¢</text>
<text font-size="18.8" transform="translate(464.8,487.18) scale(0.660,1)">KS</text>
<text font-size="18.8" transform="translate(464.8,510.38) scale(0.701,1)">11.47¢</text>
<text font-size="18.8" transform="translate(195.9,566.08) scale(0.660,1)">AZ</text>
<text font-size="18.8" transform="translate(195.9,589.08) scale(0.679,1)">11.31¢</text>
<text font-size="18.8" transform="translate(310.6,574.58) scale(0.660,1)">NM</text>
<text font-size="18.8" transform="translate(310.6,597.38) scale(0.723,1)">10.02¢</text>
<text font-size="18.8" transform="translate(470.8,558.78) scale(0.660,1)">OK</text>
<text font-size="18.8" transform="translate(470.8,581.58) scale(0.723,1)">10.05¢</text>
<text font-size="18.8" transform="translate(433.3,646.08) scale(0.660,1)">TX</text>
<text font-size="18.8" transform="translate(433.3,669.08) scale(0.701,1)">10.16¢</text>
<text font-size="18.8" transform="translate(521.5,308.98) scale(0.660,1)">MN</text>
<text font-size="18.8" transform="translate(521.5,332.08) scale(0.723,1)">12.04¢</text>
<text font-size="18.8" transform="translate(537.9,407.78) scale(0.660,1)">IA</text>
<text font-size="18.8" transform="translate(537.9,431.18) scale(0.745,1)">9.57¢</text>
<text font-size="18.8" transform="translate(559.6,493.98) scale(0.660,1)">MO</text>
<text font-size="18.8" transform="translate(559.6,516.78) scale(0.723,1)">10.26¢</text>
<text font-size="18.8" transform="translate(563.6,569.98) scale(0.660,1)">AR</text>
<text font-size="18.8" transform="translate(563.6,592.78) scale(0.723,1)">9.91¢</text>
<text font-size="18.8" transform="translate(572,668.58) scale(0.660,1)">LA</text>
<text font-size="18.8" transform="translate(572,692.08) scale(0.701,1)">10.41¢</text>
<text font-size="18.8" transform="translate(604.6,350.08) scale(0.660,1)">WI</text>
<text font-size="18.8" transform="translate(604.6,372.88) scale(0.701,1)">11.95¢</text>
<text font-size="18.8" transform="translate(618,447.28) scale(0.660,1)">IL</text>
<text font-size="18.8" transform="translate(618,470.08) scale(0.701,1)">11.94¢</text>
<text font-size="18.8" transform="translate(685,370.58) scale(0.660,1)">MI</text>
<text font-size="18.8" transform="translate(685,393.88) scale(0.723,1)">13.2¢</text>
<text font-size="18.8" transform="translate(672.4,446.58) scale(0.660,1)">IN</text>
<text font-size="18.8" transform="translate(672.4,469.28) scale(0.701,1)">11.66¢</text>
<text font-size="18.8" transform="translate(735.1,433.08) scale(0.660,1)">OH</text>
<text font-size="18.8" transform="translate(735.1,455.98) scale(0.723,1)">10.64¢</text>
<text font-size="18.8" transform="translate(707.7,497.28) scale(0.660,1)">KY</text>
<text font-size="18.8" transform="translate(707.7,520.08) scale(0.701,1)">10.51¢</text>
<text font-size="13.5" transform="translate(683.4,545.525) scale(0.660,1)">TN</text>
<text font-size="13.5" transform="translate(683.4,562.925) scale(0.723,1)">10.89¢</text>
<text font-size="18.8" transform="translate(621.4,618.38) scale(0.660,1)">MS</text>
<text font-size="18.8" transform="translate(621.4,641.18) scale(0.723,1)">10.36¢</text>
<text font-size="18.8" transform="translate(679.5,616.08) scale(0.660,1)">AL</text>
<text font-size="18.8" transform="translate(679.5,638.58) scale(0.701,1)">11.59¢</text>
<text font-size="18.8" transform="translate(731.8,610.08) scale(0.660,1)">GA</text>
<text font-size="18.8" transform="translate(731.8,633.28) scale(0.723,1)">12¢</text>
<text font-size="18.8" transform="translate(797,712.58) scale(0.660,1)">FL</text>
<text font-size="18.8" transform="translate(797,736.08) scale(0.701,1)">12.51¢</text>
<text font-size="18.8" transform="translate(801.1,577.48) scale(0.660,1)">SC</text>
<text font-size="18.8" transform="translate(801.1,600.08) scale(0.723,1)">10.74¢</text>
<text font-size="18.8" transform="translate(821.1,530.78) scale(0.660,1)">NC</text>
<text font-size="18.8" transform="translate(821.1,553.48) scale(0.745,1)">9.6¢</text>
<text font-size="18.8" transform="translate(811.2,480.68) scale(0.660,1)">VA</text>
<text font-size="18.8" transform="translate(811.2,503.38) scale(0.723,1)">10.75¢</text>
<text font-size="13" transform="translate(768.5,466.95) scale(0.660,1)">WV</text>
<text font-size="13" transform="translate(768.5,483.65) scale(0.745,1)">9.74¢</text>
<text font-size="18.8" transform="translate(812.3,404.18) scale(0.660,1)">PA</text>
<text font-size="18.8" transform="translate(812.3,426.88) scale(0.701,1)">11.86¢</text>
<text font-size="18.8" transform="translate(851,343.78) scale(0.660,1)">NY</text>
<text font-size="18.8" transform="translate(851,366.78) scale(0.723,1)">18.33¢</text>
<text font-size="18.8" transform="translate(930.2,263.38) scale(0.660,1)">ME</text>
<text font-size="18.8" transform="translate(930.2,286.78) scale(0.723,1)">17.44¢</text>
<text font-size="11" transform="translate(873.7,281.25) scale(0.660,1)">VT</text>
<text font-size="11" transform="translate(873.7,295.85) scale(0.723,1)">16.99¢</text>
<text font-size="13.3" transform="translate(956.1,318.055) scale(0.660,1)">NH</text>
<text font-size="13.3" transform="translate(956.1,335.655) scale(0.723,1)">21.07¢</text>
<text font-size="13.3" transform="translate(956.6,354.955) scale(0.660,1)">MA</text>
<text font-size="13.3" transform="translate(956.6,372.055) scale(0.723,1)">21.27¢</text>
<text font-size="13.3" transform="translate(952.1,391.055) scale(0.660,1)">RI</text>
<text font-size="13.3" transform="translate(952.1,408.255) scale(0.723,1)">19.3¢</text>
<text font-size="13.3" transform="translate(917.1,395.655) scale(0.660,1)">CT</text>
<text font-size="13.3" transform="translate(917.1,413.155) scale(0.723,1)">21.08¢</text>
<text font-size="13.3" transform="translate(893.6,426.355) scale(0.660,1)">NJ</text>
<text font-size="13.3" transform="translate(893.6,444.055) scale(0.723,1)">14.8¢</text>
<text font-size="13.3" transform="translate(911.3,459.655) scale(0.660,1)">DE</text>
<text font-size="13.3" transform="translate(911.3,477.355) scale(0.701,1)">11.83¢</text>
<text font-size="13.3" transform="translate(887.6,486.355) scale(0.660,1)">MD</text>
<text font-size="13.3" transform="translate(887.6,504.055) scale(0.723,1)">13.32¢</text>
<text font-size="18.8" transform="translate(98.7,696.68) scale(0.660,1)">AK</text>
<text font-size="18.8" transform="translate(98.7,719.88) scale(0.745,1)">20.73¢</text>
<text font-size="18.8" transform="translate(332.8,746.68) scale(0.660,1)">HI</text>
<text font-size="18.8" transform="translate(332.8,769.88) scale(0.745,1)">39.72¢</text>
</svg>
<div id="sub"><span>Average (cents/kWh) For</span></div>
<svg id="titlesvg" width="975" height="800" viewBox="0 0 975 800"><text id="ttl" transform="translate(315.6,103.2) skewX(-8) scale(1.062,1)" style="font-size:35px;fill:#111;stroke:#111;stroke-width:2.4px;stroke-linejoin:round;text-anchor:middle">Retail Electricity By State</text></svg>
<div id="legend"></div>
<div class="lg" style="left:100.2px"><span style="transform:scaleX(0.91)">8.24¢</span></div>
<div class="lg r" style="right:429.6px"><span style="transform:scaleX(0.835)">39.72¢</span></div>
<svg id="srcsvg" width="975" height="800" viewBox="0 0 975 800"><text transform="translate(2.0,1.0) rotate(88.75) scale(0.745,1)" style="font-size:15px;fill:#1c1c1c;text-anchor:start;stroke:#1c1c1c;stroke-width:0.3px">Source: https://www.eia.gov/electricity/state/</text></svg>
<svg id="icon" width="975" height="800" viewBox="0 0 975 800">
<circle cx="775.3" cy="109" r="56" fill="#f2be1b" stroke="#3f4142" stroke-width="6"/>
<g fill="none" stroke="#3f4142" stroke-width="5.2" stroke-linecap="round">
<path d="M808.7,48.3 A69.3,69.3 0 0 1 826.2,62"/>
<path d="M834.3,72.7 A69.3,69.3 0 0 1 844.6,110.5"/>
<path d="M727.1,158.8 A69.3,69.3 0 0 0 737.9,167.3"/>
</g>
<path d="M779.5,32.5 L806.5,32.5 L776,88.5 L812.5,90 L740.5,188 L780,109.5 L744,104.5 Z" fill="#e9edf0" stroke="#3f4142" stroke-width="5.8" stroke-linejoin="round"/>
</svg>
<div id="wm"><svg width="30" height="30" viewBox="0 0 30 30" style="left:3px;top:11px"><rect x="0.8" y="0.5" width="28" height="28" rx="6.5" fill="#5b6673"/><path d="M5,12 L7,6.5 L10,8 L12.5,5 L17.5,5 L20,8 L23,6.5 L25,12 L25,21 Q25,24 22,24 L8,24 Q5,24 5,21 Z" fill="#6ba6d0"/><circle cx="10.3" cy="15" r="2.6" fill="#eef3f6"/><circle cx="19.7" cy="15" r="2.6" fill="#eef3f6"/><circle cx="10.5" cy="15.2" r="1.1" fill="#44505c"/><circle cx="19.5" cy="15.2" r="1.1" fill="#44505c"/><path d="M6,19.5 L9,19.5 L9,21 L13,21 L13,19.8 L17,19.8 L17,21 L21,21 L21,19.5 L24,19.5" fill="none" stroke="#eef3f6" stroke-width="1.2"/><rect x="14.3" y="12.5" width="1.4" height="4.5" rx="0.7" fill="#eef3f6"/></svg><b>惠家信息资讯</b></div>
<div id="made"><span>Made with DataHiiv.com</span></div>
</body>
</html>
